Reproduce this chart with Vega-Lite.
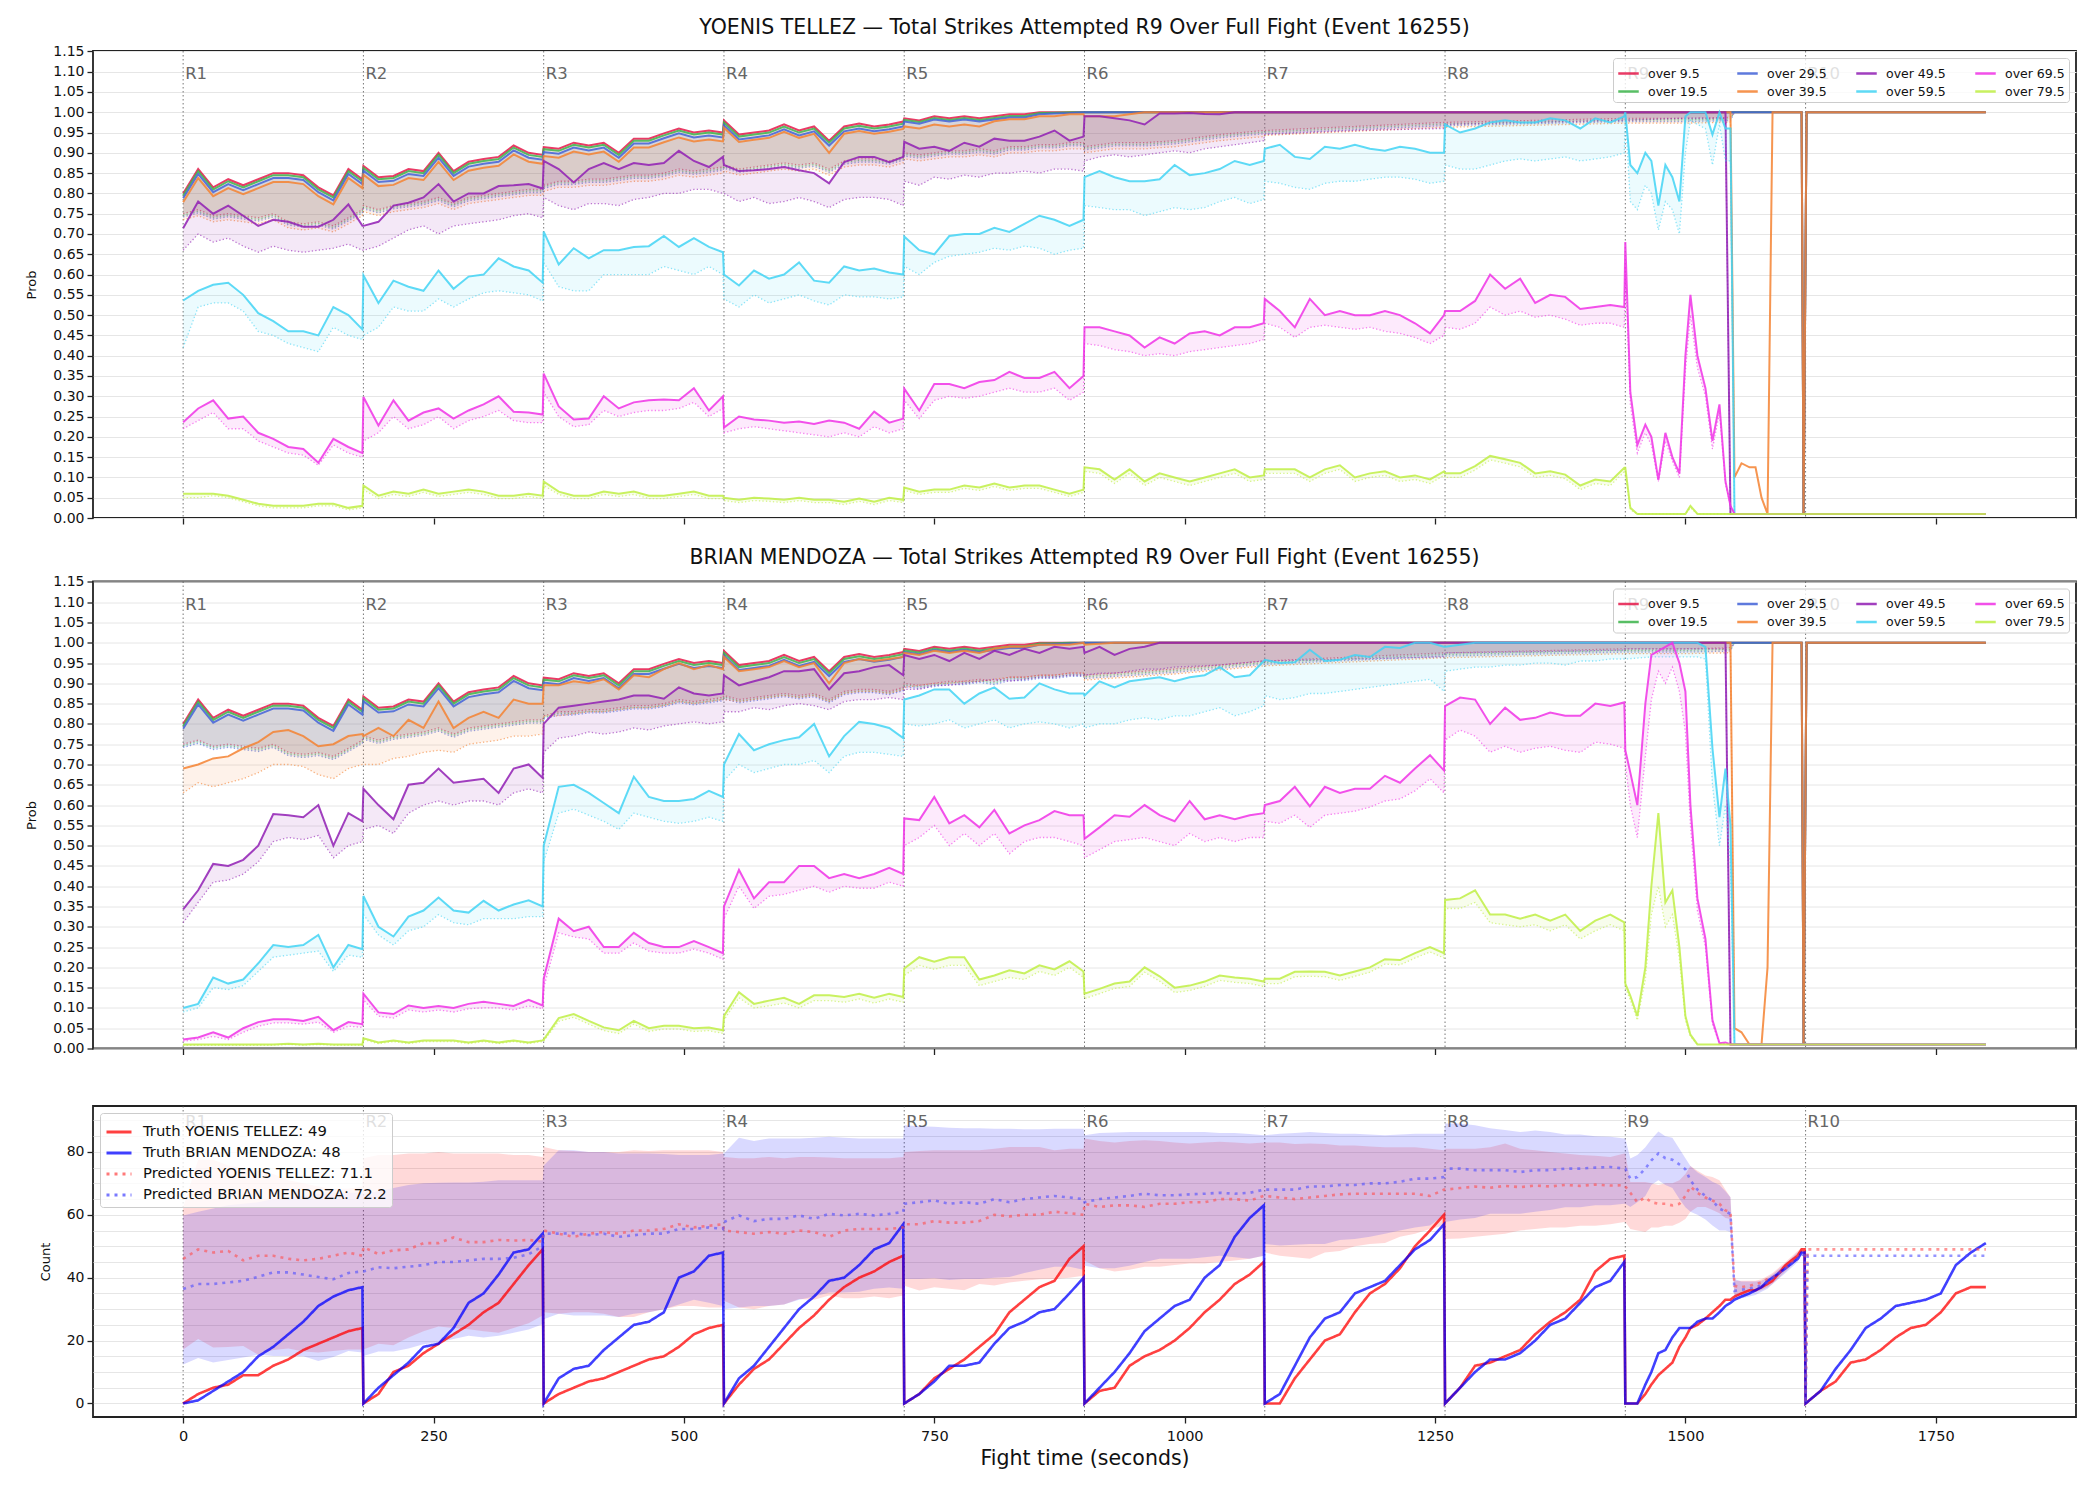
{
"$schema":"https://vega.github.io/schema/vega-lite/v6.json",
"background":"white",
"padding":{"left":24,"top":17,"right":10,"bottom":10},
"spacing":21.5,
"resolve":{"scale":{"color":"independent","strokeDash":"independent"},"legend":{"color":"independent","strokeDash":"independent"}},
"config":{
"font":"DejaVu Sans",
"view":{"stroke":"#222","strokeWidth":1.8},
"mark":{"invalid":"filter"},
"axis":{"domain":false,"labelFontSize":14,"labelColor":"#111","tickColor":"#222","tickSize":6,"tickWidth":1.3,"titleFontWeight":"normal","titleFontSize":13,"titleColor":"#111","labelPadding":3,"gridColor":"#e6e6e6","gridWidth":1,"labelOverlap":false},
"axisY":{"grid":true,"titlePadding":14},
"axisX":{"grid":false},
"title":{"fontSize":20.5,"fontWeight":"normal","color":"#111","offset":6},
"legend":{"labelColor":"#111"}
},
"datasets":{
"rounds":[{"t":0,"r":"R1"},{"t":180,"r":"R2"},{"t":360,"r":"R3"},{"t":540,"r":"R4"},{"t":720,"r":"R5"},{"t":900,"r":"R6"},{"t":1080,"r":"R7"},{"t":1260,"r":"R8"},{"t":1440,"r":"R9"},{"t":1620,"r":"R10"}],
"p1":[
{"t":0,"a":0.8,"b":0.795,"c":0.788,"e":0.778,"f":0.714,"g":0.536,"h":0.236,"i":0.06,"A":0.75,"B":0.746,"C":0.742,"E":0.735,"F":0.66,"G":0.42,"H":0.22,"I":0.05},
{"t":15,"a":0.86,"b":0.855,"c":0.848,"e":0.838,"f":0.78,"g":0.56,"h":0.27,"i":0.06,"A":0.76,"B":0.756,"C":0.752,"E":0.745,"F":0.7,"G":0.52,"H":0.24,"I":0.05},
{"t":30,"a":0.815,"b":0.81,"c":0.803,"e":0.793,"f":0.75,"g":0.575,"h":0.29,"i":0.06,"A":0.745,"B":0.741,"C":0.737,"E":0.73,"F":0.68,"G":0.53,"H":0.26,"I":0.055},
{"t":45,"a":0.835,"b":0.83,"c":0.823,"e":0.813,"f":0.77,"g":0.58,"h":0.245,"i":0.055,"A":0.75,"B":0.746,"C":0.742,"E":0.735,"F":0.69,"G":0.53,"H":0.22,"I":0.05},
{"t":60,"a":0.82,"b":0.815,"c":0.808,"e":0.798,"f":0.745,"g":0.55,"h":0.25,"i":0.045,"A":0.745,"B":0.741,"C":0.737,"E":0.73,"F":0.67,"G":0.51,"H":0.22,"I":0.04},
{"t":75,"a":0.835,"b":0.83,"c":0.823,"e":0.813,"f":0.72,"g":0.505,"h":0.21,"i":0.035,"A":0.74,"B":0.736,"C":0.732,"E":0.725,"F":0.655,"G":0.46,"H":0.19,"I":0.03},
{"t":90,"a":0.85,"b":0.845,"c":0.838,"e":0.828,"f":0.735,"g":0.485,"h":0.195,"i":0.03,"A":0.75,"B":0.746,"C":0.742,"E":0.735,"F":0.67,"G":0.45,"H":0.175,"I":0.025},
{"t":105,"a":0.85,"b":0.845,"c":0.838,"e":0.828,"f":0.73,"g":0.46,"h":0.175,"i":0.03,"A":0.73,"B":0.726,"C":0.722,"E":0.715,"F":0.66,"G":0.43,"H":0.16,"I":0.025},
{"t":120,"a":0.845,"b":0.84,"c":0.833,"e":0.823,"f":0.718,"g":0.46,"h":0.17,"i":0.03,"A":0.725,"B":0.721,"C":0.717,"E":0.71,"F":0.655,"G":0.42,"H":0.155,"I":0.025},
{"t":135,"a":0.815,"b":0.81,"c":0.803,"e":0.793,"f":0.718,"g":0.45,"h":0.136,"i":0.035,"A":0.73,"B":0.726,"C":0.722,"E":0.715,"F":0.66,"G":0.41,"H":0.13,"I":0.03},
{"t":150,"a":0.795,"b":0.79,"c":0.783,"e":0.773,"f":0.735,"g":0.52,"h":0.195,"i":0.035,"A":0.72,"B":0.716,"C":0.712,"E":0.705,"F":0.665,"G":0.47,"H":0.18,"I":0.03},
{"t":165,"a":0.86,"b":0.855,"c":0.848,"e":0.838,"f":0.773,"g":0.5,"h":0.175,"i":0.025,"A":0.74,"B":0.736,"C":0.732,"E":0.725,"F":0.675,"G":0.45,"H":0.16,"I":0.02},
{"t":179,"a":0.835,"b":0.83,"c":0.823,"e":0.813,"f":0.72,"g":0.465,"h":0.16,"i":0.03,"A":0.76,"B":0.756,"C":0.752,"E":0.745,"F":0.66,"G":0.44,"H":0.15,"I":0.025},
{"t":180,"a":0.868,"b":0.863,"c":0.856,"e":0.846,"f":0.72,"g":0.598,"h":0.298,"i":0.08,"A":0.77,"B":0.766,"C":0.762,"E":0.755,"F":0.66,"G":0.45,"H":0.19,"I":0.07},
{"t":195,"a":0.84,"b":0.835,"c":0.828,"e":0.818,"f":0.73,"g":0.53,"h":0.228,"i":0.055,"A":0.76,"B":0.756,"C":0.752,"E":0.745,"F":0.67,"G":0.47,"H":0.21,"I":0.048},
{"t":210,"a":0.843,"b":0.838,"c":0.831,"e":0.821,"f":0.77,"g":0.585,"h":0.29,"i":0.065,"A":0.77,"B":0.766,"C":0.762,"E":0.755,"F":0.69,"G":0.52,"H":0.25,"I":0.058},
{"t":225,"a":0.86,"b":0.855,"c":0.848,"e":0.838,"f":0.777,"g":0.57,"h":0.24,"i":0.06,"A":0.775,"B":0.771,"C":0.767,"E":0.76,"F":0.71,"G":0.51,"H":0.22,"I":0.053},
{"t":240,"a":0.855,"b":0.85,"c":0.843,"e":0.833,"f":0.79,"g":0.56,"h":0.26,"i":0.07,"A":0.78,"B":0.776,"C":0.772,"E":0.765,"F":0.72,"G":0.51,"H":0.23,"I":0.063},
{"t":255,"a":0.9,"b":0.895,"c":0.888,"e":0.878,"f":0.823,"g":0.61,"h":0.27,"i":0.06,"A":0.79,"B":0.786,"C":0.782,"E":0.775,"F":0.7,"G":0.54,"H":0.25,"I":0.053},
{"t":270,"a":0.855,"b":0.85,"c":0.843,"e":0.833,"f":0.78,"g":0.565,"h":0.245,"i":0.065,"A":0.775,"B":0.771,"C":0.767,"E":0.76,"F":0.72,"G":0.52,"H":0.22,"I":0.058},
{"t":285,"a":0.878,"b":0.873,"c":0.866,"e":0.856,"f":0.8,"g":0.595,"h":0.265,"i":0.07,"A":0.79,"B":0.786,"C":0.782,"E":0.775,"F":0.725,"G":0.54,"H":0.24,"I":0.063},
{"t":300,"a":0.885,"b":0.88,"c":0.873,"e":0.863,"f":0.8,"g":0.6,"h":0.28,"i":0.065,"A":0.795,"B":0.791,"C":0.787,"E":0.78,"F":0.73,"G":0.555,"H":0.25,"I":0.058},
{"t":315,"a":0.89,"b":0.885,"c":0.878,"e":0.868,"f":0.818,"g":0.64,"h":0.3,"i":0.055,"A":0.8,"B":0.796,"C":0.792,"E":0.785,"F":0.735,"G":0.56,"H":0.265,"I":0.048},
{"t":330,"a":0.918,"b":0.913,"c":0.906,"e":0.896,"f":0.82,"g":0.62,"h":0.262,"i":0.055,"A":0.805,"B":0.801,"C":0.797,"E":0.79,"F":0.745,"G":0.555,"H":0.24,"I":0.048},
{"t":345,"a":0.9,"b":0.895,"c":0.888,"e":0.878,"f":0.823,"g":0.61,"h":0.26,"i":0.06,"A":0.81,"B":0.806,"C":0.802,"E":0.795,"F":0.75,"G":0.55,"H":0.235,"I":0.053},
{"t":359,"a":0.895,"b":0.89,"c":0.883,"e":0.873,"f":0.812,"g":0.58,"h":0.255,"i":0.055,"A":0.81,"B":0.806,"C":0.802,"E":0.795,"F":0.74,"G":0.535,"H":0.235,"I":0.048},
{"t":360,"a":0.914,"b":0.909,"c":0.902,"e":0.892,"f":0.88,"g":0.706,"h":0.356,"i":0.09,"A":0.82,"B":0.816,"C":0.812,"E":0.805,"F":0.79,"G":0.63,"H":0.31,"I":0.08},
{"t":375,"a":0.91,"b":0.905,"c":0.898,"e":0.888,"f":0.86,"g":0.625,"h":0.275,"i":0.065,"A":0.83,"B":0.826,"C":0.822,"E":0.815,"F":0.77,"G":0.57,"H":0.25,"I":0.058},
{"t":390,"a":0.925,"b":0.92,"c":0.913,"e":0.903,"f":0.827,"g":0.665,"h":0.243,"i":0.055,"A":0.83,"B":0.826,"C":0.822,"E":0.815,"F":0.76,"G":0.56,"H":0.225,"I":0.048},
{"t":405,"a":0.918,"b":0.913,"c":0.906,"e":0.896,"f":0.86,"g":0.64,"h":0.245,"i":0.055,"A":0.835,"B":0.831,"C":0.827,"E":0.82,"F":0.775,"G":0.56,"H":0.23,"I":0.048},
{"t":420,"a":0.925,"b":0.92,"c":0.913,"e":0.903,"f":0.875,"g":0.66,"h":0.3,"i":0.065,"A":0.835,"B":0.831,"C":0.827,"E":0.82,"F":0.775,"G":0.6,"H":0.265,"I":0.058},
{"t":435,"a":0.9,"b":0.895,"c":0.888,"e":0.878,"f":0.86,"g":0.66,"h":0.27,"i":0.06,"A":0.84,"B":0.836,"C":0.832,"E":0.825,"F":0.77,"G":0.6,"H":0.25,"I":0.053},
{"t":450,"a":0.935,"b":0.93,"c":0.923,"e":0.913,"f":0.875,"g":0.668,"h":0.285,"i":0.065,"A":0.845,"B":0.841,"C":0.837,"E":0.83,"F":0.785,"G":0.6,"H":0.26,"I":0.058},
{"t":465,"a":0.935,"b":0.93,"c":0.923,"e":0.913,"f":0.87,"g":0.67,"h":0.29,"i":0.055,"A":0.845,"B":0.841,"C":0.837,"E":0.83,"F":0.79,"G":0.6,"H":0.265,"I":0.048},
{"t":480,"a":0.948,"b":0.943,"c":0.936,"e":0.926,"f":0.875,"g":0.695,"h":0.292,"i":0.055,"A":0.85,"B":0.846,"C":0.842,"E":0.835,"F":0.8,"G":0.62,"H":0.265,"I":0.048},
{"t":495,"a":0.96,"b":0.955,"c":0.948,"e":0.938,"f":0.905,"g":0.668,"h":0.29,"i":0.06,"A":0.86,"B":0.856,"C":0.852,"E":0.845,"F":0.8,"G":0.61,"H":0.27,"I":0.053},
{"t":510,"a":0.95,"b":0.945,"c":0.938,"e":0.928,"f":0.88,"g":0.69,"h":0.32,"i":0.065,"A":0.855,"B":0.851,"C":0.847,"E":0.84,"F":0.81,"G":0.6,"H":0.285,"I":0.058},
{"t":525,"a":0.955,"b":0.95,"c":0.943,"e":0.933,"f":0.865,"g":0.668,"h":0.265,"i":0.055,"A":0.86,"B":0.856,"C":0.852,"E":0.845,"F":0.81,"G":0.62,"H":0.25,"I":0.048},
{"t":539,"a":0.95,"b":0.945,"c":0.938,"e":0.928,"f":0.89,"g":0.655,"h":0.3,"i":0.055,"A":0.865,"B":0.861,"C":0.857,"E":0.85,"F":0.8,"G":0.6,"H":0.27,"I":0.048},
{"t":540,"a":0.98,"b":0.975,"c":0.968,"e":0.962,"f":0.87,"g":0.6,"h":0.223,"i":0.05,"A":0.87,"B":0.866,"C":0.862,"E":0.855,"F":0.8,"G":0.54,"H":0.21,"I":0.043},
{"t":555,"a":0.945,"b":0.94,"c":0.933,"e":0.927,"f":0.855,"g":0.573,"h":0.25,"i":0.045,"A":0.86,"B":0.856,"C":0.852,"E":0.845,"F":0.78,"G":0.52,"H":0.22,"I":0.038},
{"t":570,"a":0.95,"b":0.945,"c":0.938,"e":0.932,"f":0.857,"g":0.61,"h":0.243,"i":0.05,"A":0.865,"B":0.861,"C":0.857,"E":0.85,"F":0.79,"G":0.55,"H":0.225,"I":0.043},
{"t":585,"a":0.955,"b":0.95,"c":0.943,"e":0.937,"f":0.86,"g":0.59,"h":0.24,"i":0.048,"A":0.87,"B":0.866,"C":0.862,"E":0.855,"F":0.775,"G":0.53,"H":0.22,"I":0.041},
{"t":600,"a":0.97,"b":0.965,"c":0.958,"e":0.952,"f":0.865,"g":0.6,"h":0.235,"i":0.045,"A":0.875,"B":0.871,"C":0.867,"E":0.86,"F":0.78,"G":0.54,"H":0.215,"I":0.038},
{"t":615,"a":0.955,"b":0.95,"c":0.943,"e":0.937,"f":0.857,"g":0.63,"h":0.238,"i":0.05,"A":0.87,"B":0.866,"C":0.862,"E":0.855,"F":0.79,"G":0.55,"H":0.21,"I":0.043},
{"t":630,"a":0.965,"b":0.96,"c":0.953,"e":0.947,"f":0.85,"g":0.585,"h":0.232,"i":0.045,"A":0.875,"B":0.871,"C":0.867,"E":0.86,"F":0.78,"G":0.535,"H":0.205,"I":0.038},
{"t":645,"a":0.93,"b":0.925,"c":0.918,"e":0.9,"f":0.825,"g":0.58,"h":0.24,"i":0.045,"A":0.86,"B":0.856,"C":0.852,"E":0.845,"F":0.765,"G":0.525,"H":0.2,"I":0.038},
{"t":660,"a":0.965,"b":0.96,"c":0.953,"e":0.947,"f":0.877,"g":0.62,"h":0.235,"i":0.04,"A":0.88,"B":0.876,"C":0.872,"E":0.865,"F":0.785,"G":0.55,"H":0.21,"I":0.033},
{"t":675,"a":0.972,"b":0.967,"c":0.96,"e":0.954,"f":0.89,"g":0.61,"h":0.22,"i":0.048,"A":0.885,"B":0.881,"C":0.877,"E":0.87,"F":0.79,"G":0.545,"H":0.2,"I":0.041},
{"t":690,"a":0.965,"b":0.96,"c":0.953,"e":0.947,"f":0.89,"g":0.615,"h":0.262,"i":0.04,"A":0.885,"B":0.881,"C":0.877,"E":0.87,"F":0.79,"G":0.545,"H":0.225,"I":0.033},
{"t":705,"a":0.97,"b":0.965,"c":0.958,"e":0.952,"f":0.877,"g":0.605,"h":0.235,"i":0.05,"A":0.88,"B":0.876,"C":0.872,"E":0.865,"F":0.785,"G":0.54,"H":0.21,"I":0.043},
{"t":719,"a":0.977,"b":0.972,"c":0.965,"e":0.959,"f":0.89,"g":0.6,"h":0.245,"i":0.045,"A":0.89,"B":0.886,"C":0.882,"E":0.875,"F":0.77,"G":0.545,"H":0.22,"I":0.038},
{"t":720,"a":0.985,"b":0.981,"c":0.977,"e":0.965,"f":0.927,"g":0.694,"h":0.319,"i":0.075,"A":0.9,"B":0.896,"C":0.892,"E":0.885,"F":0.83,"G":0.62,"H":0.29,"I":0.068},
{"t":735,"a":0.98,"b":0.976,"c":0.972,"e":0.96,"f":0.91,"g":0.66,"h":0.265,"i":0.065,"A":0.895,"B":0.891,"C":0.887,"E":0.88,"F":0.82,"G":0.6,"H":0.245,"I":0.058},
{"t":750,"a":0.99,"b":0.986,"c":0.982,"e":0.97,"f":0.915,"g":0.65,"h":0.33,"i":0.07,"A":0.9,"B":0.896,"C":0.892,"E":0.885,"F":0.84,"G":0.63,"H":0.29,"I":0.063},
{"t":765,"a":0.985,"b":0.981,"c":0.977,"e":0.965,"f":0.905,"g":0.695,"h":0.33,"i":0.07,"A":0.905,"B":0.901,"C":0.897,"E":0.89,"F":0.835,"G":0.645,"H":0.3,"I":0.063},
{"t":780,"a":0.99,"b":0.986,"c":0.982,"e":0.97,"f":0.925,"g":0.7,"h":0.32,"i":0.08,"A":0.905,"B":0.901,"C":0.897,"E":0.89,"F":0.845,"G":0.65,"H":0.295,"I":0.073},
{"t":795,"a":0.985,"b":0.981,"c":0.977,"e":0.965,"f":0.915,"g":0.7,"h":0.335,"i":0.075,"A":0.91,"B":0.906,"C":0.902,"E":0.895,"F":0.84,"G":0.655,"H":0.3,"I":0.068},
{"t":810,"a":0.99,"b":0.986,"c":0.982,"e":0.978,"f":0.935,"g":0.715,"h":0.34,"i":0.085,"A":0.905,"B":0.901,"C":0.897,"E":0.89,"F":0.85,"G":0.665,"H":0.31,"I":0.078},
{"t":825,"a":0.995,"b":0.991,"c":0.987,"e":0.983,"f":0.93,"g":0.705,"h":0.36,"i":0.075,"A":0.915,"B":0.911,"C":0.907,"E":0.9,"F":0.85,"G":0.66,"H":0.32,"I":0.068},
{"t":840,"a":0.995,"b":0.991,"c":0.987,"e":0.983,"f":0.93,"g":0.725,"h":0.345,"i":0.08,"A":0.915,"B":0.911,"C":0.907,"E":0.9,"F":0.855,"G":0.67,"H":0.31,"I":0.073},
{"t":855,"a":1,"b":0.998,"c":0.995,"e":0.99,"f":0.94,"g":0.745,"h":0.345,"i":0.08,"A":0.92,"B":0.916,"C":0.912,"E":0.905,"F":0.85,"G":0.665,"H":0.31,"I":0.073},
{"t":870,"a":1,"b":0.999,"c":0.997,"e":0.99,"f":0.955,"g":0.735,"h":0.36,"i":0.07,"A":0.92,"B":0.916,"C":0.912,"E":0.905,"F":0.86,"G":0.65,"H":0.32,"I":0.063},
{"t":885,"a":1,"b":1,"c":0.998,"e":0.995,"f":0.93,"g":0.72,"h":0.32,"i":0.06,"A":0.925,"B":0.921,"C":0.917,"E":0.91,"F":0.86,"G":0.66,"H":0.29,"I":0.053},
{"t":899,"a":1,"b":1,"c":1,"e":0.995,"f":0.94,"g":0.735,"h":0.35,"i":0.07,"A":0.925,"B":0.921,"C":0.917,"E":0.91,"F":0.855,"G":0.665,"H":0.31,"I":0.063},
{"t":900,"a":1,"b":1,"c":1,"e":0.99,"A":0.915,"B":0.911,"C":0.907,"E":0.9,"f":0.99,"g":0.84,"h":0.47,"i":0.125,"F":0.88,"G":0.77,"H":0.43,"I":0.115},
{"t":915,"f":0.99,"g":0.855,"h":0.47,"i":0.12,"F":0.89,"G":0.765,"H":0.425,"I":0.11},
{"t":930,"a":1,"b":1,"c":1,"e":0.99,"A":0.925,"B":0.921,"C":0.917,"E":0.91,"f":0.985,"g":0.84,"h":0.46,"i":0.095,"F":0.895,"G":0.76,"H":0.415,"I":0.085},
{"t":945,"f":0.98,"g":0.83,"h":0.45,"i":0.12,"F":0.89,"G":0.76,"H":0.41,"I":0.11},
{"t":960,"a":1,"b":1,"c":1,"e":1,"A":0.925,"B":0.921,"C":0.917,"E":0.91,"f":0.97,"g":0.83,"h":0.42,"i":0.09,"F":0.895,"G":0.745,"H":0.4,"I":0.08},
{"t":975,"f":0.997,"g":0.835,"h":0.445,"i":0.11,"F":0.9,"G":0.755,"H":0.405,"I":0.1},
{"t":990,"a":1,"b":1,"c":1,"e":1,"A":0.93,"B":0.926,"C":0.922,"E":0.915,"f":0.997,"g":0.87,"h":0.43,"i":0.1,"F":0.905,"G":0.765,"H":0.4,"I":0.09},
{"t":1005,"f":0.998,"g":0.845,"h":0.455,"i":0.09,"F":0.9,"G":0.76,"H":0.41,"I":0.08},
{"t":1020,"f":0.996,"g":0.85,"h":0.46,"i":0.1,"F":0.91,"G":0.765,"H":0.415,"I":0.09},
{"t":1035,"a":1,"b":1,"c":1,"e":1,"A":0.945,"B":0.941,"C":0.937,"E":0.93,"f":0.995,"g":0.86,"h":0.45,"i":0.11,"F":0.915,"G":0.78,"H":0.42,"I":0.1},
{"t":1050,"f":1,"g":0.88,"h":0.47,"i":0.12,"F":0.92,"G":0.79,"H":0.425,"I":0.11},
{"t":1065,"f":1,"g":0.87,"h":0.47,"i":0.1,"F":0.925,"G":0.775,"H":0.43,"I":0.09},
{"t":1079,"a":1,"b":1,"c":1,"e":1,"A":0.955,"B":0.951,"C":0.947,"E":0.94,"f":1,"g":0.88,"h":0.48,"i":0.105,"F":0.93,"G":0.785,"H":0.44,"I":0.095},
{"t":1080,"a":1,"b":1,"c":1,"e":1,"A":0.955,"B":0.951,"C":0.947,"E":0.943,"f":1,"F":0.945,"g":0.91,"h":0.54,"i":0.12,"G":0.83,"H":0.48,"I":0.11},
{"t":1095,"g":0.92,"h":0.51,"i":0.12,"G":0.825,"H":0.47,"I":0.11},
{"t":1110,"g":0.89,"h":0.47,"i":0.12,"G":0.815,"H":0.445,"I":0.11},
{"t":1125,"g":0.885,"h":0.54,"i":0.1,"G":0.81,"H":0.47,"I":0.09},
{"t":1140,"g":0.915,"h":0.5,"i":0.12,"G":0.825,"H":0.475,"I":0.11},
{"t":1155,"g":0.91,"h":0.51,"i":0.13,"G":0.83,"H":0.47,"I":0.12},
{"t":1170,"a":1,"b":1,"c":1,"e":1,"A":0.965,"B":0.961,"C":0.957,"E":0.953,"f":1,"F":0.955,"g":0.92,"h":0.5,"i":0.1,"G":0.83,"H":0.465,"I":0.09},
{"t":1185,"g":0.91,"h":0.5,"i":0.11,"G":0.835,"H":0.47,"I":0.1},
{"t":1200,"g":0.905,"h":0.51,"i":0.115,"G":0.84,"H":0.46,"I":0.105},
{"t":1215,"g":0.915,"h":0.5,"i":0.1,"G":0.84,"H":0.455,"I":0.09},
{"t":1230,"g":0.91,"h":0.48,"i":0.105,"G":0.835,"H":0.445,"I":0.095},
{"t":1245,"g":0.9,"h":0.455,"i":0.095,"G":0.825,"H":0.43,"I":0.085},
{"t":1259,"a":1,"b":1,"c":1,"e":1,"A":0.975,"B":0.971,"C":0.967,"E":0.963,"f":1,"F":0.96,"g":0.9,"h":0.5,"i":0.115,"G":0.83,"H":0.45,"I":0.105},
{"t":1260,"a":1,"b":1,"c":1,"e":1,"A":0.975,"B":0.971,"C":0.967,"E":0.963,"f":1,"F":0.97,"g":0.97,"h":0.51,"i":0.11,"G":0.87,"H":0.47,"I":0.1},
{"t":1275,"g":0.95,"h":0.51,"i":0.11,"G":0.86,"H":0.465,"I":0.1},
{"t":1290,"g":0.96,"h":0.535,"i":0.128,"G":0.86,"H":0.48,"I":0.118},
{"t":1305,"g":0.975,"h":0.6,"i":0.153,"G":0.87,"H":0.52,"I":0.143},
{"t":1320,"g":0.98,"h":0.565,"i":0.145,"G":0.88,"H":0.5,"I":0.135},
{"t":1335,"g":0.975,"h":0.59,"i":0.136,"G":0.885,"H":0.51,"I":0.126},
{"t":1350,"a":1,"b":1,"c":1,"e":1,"A":0.98,"B":0.976,"C":0.972,"E":0.968,"f":1,"F":0.975,"g":0.975,"h":0.53,"i":0.11,"G":0.88,"H":0.495,"I":0.1},
{"t":1365,"g":0.985,"h":0.55,"i":0.115,"G":0.885,"H":0.5,"I":0.105},
{"t":1380,"g":0.98,"h":0.545,"i":0.107,"G":0.89,"H":0.49,"I":0.097},
{"t":1395,"g":0.96,"h":0.515,"i":0.08,"G":0.88,"H":0.475,"I":0.07},
{"t":1410,"g":0.985,"h":0.52,"i":0.095,"G":0.885,"H":0.48,"I":0.085},
{"t":1425,"g":0.975,"h":0.525,"i":0.09,"G":0.89,"H":0.48,"I":0.08},
{"t":1439,"a":1,"b":1,"c":1,"e":1,"A":0.985,"B":0.981,"C":0.977,"E":0.973,"f":1,"F":0.98,"g":0.99,"h":0.52,"i":0.124,"G":0.9,"H":0.47,"I":0.114},
{"t":1440,"a":1,"b":1,"c":1,"e":1,"A":0.985,"B":0.981,"C":0.977,"E":0.973,"f":1,"F":0.98,"g":1,"h":0.68,"i":0.124,"G":0.99,"H":0.62,"I":0.11},
{"t":1445,"g":0.87,"h":0.31,"i":0.025,"G":0.78,"H":0.28,"I":0.02},
{"t":1452,"g":0.85,"h":0.18,"i":0.01,"G":0.76,"H":0.16,"I":0.01},
{"t":1460,"g":0.9,"h":0.23,"G":0.82,"H":0.21},
{"t":1466,"g":0.88,"h":0.2,"G":0.8,"H":0.18},
{"t":1473,"g":0.77,"h":0.094,"G":0.71,"H":0.09},
{"t":1480,"g":0.87,"h":0.21,"G":0.78,"H":0.19},
{"t":1487,"g":0.84,"h":0.15,"G":0.76,"H":0.14},
{"t":1494,"a":1,"b":1,"c":1,"e":1,"A":0.985,"B":0.981,"C":0.977,"E":0.973,"f":1,"F":0.985,"g":0.78,"h":0.11,"i":0.01,"G":0.7,"H":0.1,"I":0.01},
{"t":1500,"g":0.99,"h":0.4,"i":0.01,"G":0.9,"H":0.36,"I":0.01},
{"t":1505,"g":1,"h":0.55,"i":0.03,"G":0.98,"H":0.5,"I":0.025},
{"t":1512,"g":1,"h":0.4,"i":0.01,"G":0.97,"H":0.37,"I":0.01},
{"t":1520,"g":1,"h":0.32,"G":0.96,"H":0.3},
{"t":1527,"g":0.945,"h":0.19,"G":0.87,"H":0.17},
{"t":1534,"g":1,"h":0.28,"G":0.97,"H":0.26},
{"t":1540,"a":1,"b":1,"c":1,"e":1,"A":0.987,"B":0.983,"C":0.979,"E":0.975,"f":1,"F":0.985,"g":0.96,"h":0.09,"G":0.88,"H":0.085},
{"t":1545,"a":1,"b":1,"c":1,"e":1,"A":0.988,"B":0.984,"C":0.98,"E":0.976,"f":0.01,"F":0.01,"g":0.96,"h":0.03,"G":0.88,"H":0.03},
{"t":1549,"a":1,"b":1,"c":1,"e":0.1,"A":1,"B":1,"C":1,"E":0.1,"g":0.01,"h":0.01,"i":0.01,"G":0.01,"H":0.01,"I":0.01},
{"t":1556,"e":0.135},
{"t":1564,"e":0.125},
{"t":1570,"e":0.125},
{"t":1576,"e":0.05},
{"t":1582,"e":0.01},
{"t":1587,"e":1},
{"t":1616,"a":1,"b":1,"c":1,"e":1},
{"t":1618,"a":0.01,"b":0.01,"c":0.01,"e":0.01},
{"t":1621,"a":1,"b":1,"c":1,"e":1},
{"t":1800,"a":1,"b":1,"c":1,"e":1,"f":0.01,"g":0.01,"h":0.01,"i":0.01}
],
"p2":[
{"t":0,"a":0.8,"b":0.795,"c":0.788,"A":0.75,"B":0.746,"C":0.742,"e":0.69,"f":0.343,"g":0.1,"h":0.022,"i":0.01,"E":0.63,"F":0.31,"G":0.09,"H":0.018,"I":0.008},
{"t":15,"a":0.86,"b":0.855,"c":0.848,"A":0.76,"B":0.756,"C":0.752,"e":0.7,"f":0.39,"g":0.11,"h":0.027,"i":0.01,"E":0.655,"F":0.36,"G":0.1,"H":0.022,"I":0.008},
{"t":30,"a":0.815,"b":0.81,"c":0.803,"A":0.745,"B":0.741,"C":0.737,"e":0.715,"f":0.455,"g":0.175,"h":0.04,"i":0.01,"E":0.645,"F":0.41,"G":0.15,"H":0.03,"I":0.008},
{"t":45,"a":0.835,"b":0.83,"c":0.823,"A":0.75,"B":0.746,"C":0.742,"e":0.72,"f":0.45,"g":0.16,"h":0.027,"i":0.01,"E":0.655,"F":0.415,"G":0.145,"H":0.022,"I":0.008},
{"t":60,"a":0.82,"b":0.815,"c":0.808,"A":0.745,"B":0.741,"C":0.737,"e":0.74,"f":0.465,"g":0.17,"h":0.05,"i":0.01,"E":0.665,"F":0.43,"G":0.155,"H":0.04,"I":0.008},
{"t":75,"a":0.835,"b":0.83,"c":0.823,"A":0.74,"B":0.736,"C":0.732,"e":0.755,"f":0.5,"g":0.21,"h":0.065,"i":0.01,"E":0.68,"F":0.46,"G":0.19,"H":0.055,"I":0.008},
{"t":90,"a":0.85,"b":0.845,"c":0.838,"A":0.75,"B":0.746,"C":0.742,"e":0.78,"f":0.578,"g":0.255,"h":0.072,"i":0.01,"E":0.7,"F":0.51,"G":0.225,"H":0.063,"I":0.008},
{"t":105,"a":0.85,"b":0.845,"c":0.838,"A":0.73,"B":0.726,"C":0.722,"e":0.785,"f":0.575,"g":0.25,"h":0.072,"i":0.012,"E":0.7,"F":0.52,"G":0.23,"H":0.063,"I":0.01},
{"t":120,"a":0.845,"b":0.84,"c":0.833,"A":0.725,"B":0.721,"C":0.717,"e":0.77,"f":0.57,"g":0.255,"h":0.068,"i":0.01,"E":0.695,"F":0.515,"G":0.235,"H":0.06,"I":0.008},
{"t":135,"a":0.815,"b":0.81,"c":0.803,"A":0.73,"B":0.726,"C":0.722,"e":0.745,"f":0.6,"g":0.28,"h":0.078,"i":0.012,"E":0.675,"F":0.525,"G":0.24,"H":0.065,"I":0.01},
{"t":150,"a":0.795,"b":0.79,"c":0.783,"A":0.72,"B":0.716,"C":0.712,"e":0.75,"f":0.5,"g":0.2,"h":0.045,"i":0.01,"E":0.665,"F":0.47,"G":0.19,"H":0.04,"I":0.008},
{"t":165,"a":0.86,"b":0.855,"c":0.848,"A":0.74,"B":0.736,"C":0.732,"e":0.77,"f":0.58,"g":0.255,"h":0.065,"i":0.01,"E":0.69,"F":0.5,"G":0.23,"H":0.055,"I":0.008},
{"t":179,"a":0.835,"b":0.83,"c":0.823,"A":0.76,"B":0.756,"C":0.752,"e":0.775,"f":0.56,"g":0.245,"h":0.06,"i":0.01,"E":0.7,"F":0.51,"G":0.225,"H":0.052,"I":0.008},
{"t":180,"a":0.868,"b":0.863,"c":0.856,"A":0.77,"B":0.766,"C":0.762,"e":0.77,"f":0.64,"g":0.376,"h":0.135,"i":0.025,"E":0.7,"F":0.54,"G":0.33,"H":0.12,"I":0.022},
{"t":195,"a":0.84,"b":0.835,"c":0.828,"A":0.76,"B":0.756,"C":0.752,"e":0.79,"f":0.6,"g":0.3,"h":0.089,"i":0.015,"E":0.7,"F":0.55,"G":0.28,"H":0.08,"I":0.012},
{"t":210,"a":0.843,"b":0.838,"c":0.831,"A":0.77,"B":0.766,"C":0.762,"e":0.77,"f":0.565,"g":0.276,"h":0.085,"i":0.02,"E":0.715,"F":0.53,"G":0.255,"H":0.075,"I":0.017},
{"t":225,"a":0.86,"b":0.855,"c":0.848,"A":0.775,"B":0.771,"C":0.767,"e":0.81,"f":0.65,"g":0.325,"h":0.106,"i":0.015,"E":0.72,"F":0.58,"G":0.29,"H":0.095,"I":0.012},
{"t":240,"a":0.855,"b":0.85,"c":0.843,"A":0.78,"B":0.776,"C":0.772,"e":0.79,"f":0.655,"g":0.34,"h":0.1,"i":0.02,"E":0.73,"F":0.6,"G":0.3,"H":0.09,"I":0.017},
{"t":255,"a":0.9,"b":0.895,"c":0.888,"A":0.79,"B":0.786,"C":0.782,"e":0.855,"f":0.69,"g":0.372,"h":0.105,"i":0.02,"E":0.735,"F":0.61,"G":0.33,"H":0.095,"I":0.017},
{"t":270,"a":0.855,"b":0.85,"c":0.843,"A":0.775,"B":0.771,"C":0.767,"e":0.79,"f":0.655,"g":0.34,"h":0.1,"i":0.02,"E":0.73,"F":0.6,"G":0.31,"H":0.09,"I":0.017},
{"t":285,"a":0.878,"b":0.873,"c":0.866,"A":0.79,"B":0.786,"C":0.782,"e":0.815,"f":0.66,"g":0.335,"h":0.11,"i":0.015,"E":0.75,"F":0.61,"G":0.305,"H":0.098,"I":0.012},
{"t":300,"a":0.885,"b":0.88,"c":0.873,"A":0.795,"B":0.791,"C":0.787,"e":0.83,"f":0.665,"g":0.364,"h":0.115,"i":0.02,"E":0.755,"F":0.61,"G":0.32,"H":0.1,"I":0.017},
{"t":315,"a":0.89,"b":0.885,"c":0.878,"A":0.8,"B":0.796,"C":0.792,"e":0.815,"f":0.63,"g":0.34,"h":0.11,"i":0.015,"E":0.76,"F":0.6,"G":0.32,"H":0.1,"I":0.012},
{"t":330,"a":0.918,"b":0.913,"c":0.906,"A":0.805,"B":0.801,"C":0.797,"e":0.86,"f":0.69,"g":0.355,"h":0.105,"i":0.02,"E":0.77,"F":0.63,"G":0.32,"H":0.095,"I":0.017},
{"t":345,"a":0.9,"b":0.895,"c":0.888,"A":0.81,"B":0.806,"C":0.802,"e":0.85,"f":0.7,"g":0.365,"h":0.12,"i":0.015,"E":0.77,"F":0.64,"G":0.325,"H":0.105,"I":0.012},
{"t":359,"a":0.895,"b":0.89,"c":0.883,"A":0.81,"B":0.806,"C":0.802,"e":0.85,"f":0.667,"g":0.35,"h":0.106,"i":0.02,"E":0.775,"F":0.63,"G":0.325,"H":0.098,"I":0.017},
{"t":360,"a":0.914,"b":0.909,"c":0.902,"A":0.82,"B":0.816,"C":0.812,"e":0.895,"f":0.8,"g":0.5,"h":0.172,"i":0.022,"E":0.82,"F":0.73,"G":0.46,"H":0.15,"I":0.018},
{"t":375,"a":0.91,"b":0.905,"c":0.898,"A":0.83,"B":0.826,"C":0.822,"e":0.895,"f":0.84,"g":0.645,"h":0.32,"i":0.075,"E":0.82,"F":0.765,"G":0.58,"H":0.285,"I":0.067},
{"t":390,"a":0.925,"b":0.92,"c":0.913,"A":0.83,"B":0.826,"C":0.822,"e":0.905,"f":0.845,"g":0.65,"h":0.289,"i":0.085,"E":0.825,"F":0.77,"G":0.59,"H":0.275,"I":0.077},
{"t":405,"a":0.918,"b":0.913,"c":0.906,"A":0.835,"B":0.831,"C":0.827,"e":0.9,"f":0.85,"g":0.63,"h":0.3,"i":0.068,"E":0.83,"F":0.78,"G":0.575,"H":0.27,"I":0.06},
{"t":420,"a":0.925,"b":0.92,"c":0.913,"A":0.835,"B":0.831,"C":0.827,"e":0.91,"f":0.855,"g":0.605,"h":0.25,"i":0.052,"E":0.83,"F":0.775,"G":0.56,"H":0.235,"I":0.044},
{"t":435,"a":0.9,"b":0.895,"c":0.888,"A":0.84,"B":0.836,"C":0.832,"e":0.885,"f":0.86,"g":0.58,"h":0.25,"i":0.045,"E":0.835,"F":0.78,"G":0.54,"H":0.235,"I":0.037},
{"t":450,"a":0.935,"b":0.93,"c":0.923,"A":0.845,"B":0.841,"C":0.837,"e":0.92,"f":0.87,"g":0.67,"h":0.285,"i":0.068,"E":0.84,"F":0.79,"G":0.58,"H":0.26,"I":0.06},
{"t":465,"a":0.935,"b":0.93,"c":0.923,"A":0.845,"B":0.841,"C":0.837,"e":0.915,"f":0.87,"g":0.62,"h":0.26,"i":0.05,"E":0.84,"F":0.785,"G":0.57,"H":0.24,"I":0.042},
{"t":480,"a":0.948,"b":0.943,"c":0.936,"A":0.85,"B":0.846,"C":0.842,"e":0.935,"f":0.862,"g":0.61,"h":0.25,"i":0.056,"E":0.845,"F":0.795,"G":0.56,"H":0.235,"I":0.048},
{"t":495,"a":0.96,"b":0.955,"c":0.948,"A":0.86,"B":0.856,"C":0.852,"e":0.95,"f":0.89,"g":0.61,"h":0.25,"i":0.056,"E":0.855,"F":0.8,"G":0.555,"H":0.235,"I":0.048},
{"t":510,"a":0.95,"b":0.945,"c":0.938,"A":0.855,"B":0.851,"C":0.847,"e":0.935,"f":0.875,"g":0.615,"h":0.265,"i":0.05,"E":0.85,"F":0.805,"G":0.56,"H":0.245,"I":0.042},
{"t":525,"a":0.955,"b":0.95,"c":0.943,"A":0.86,"B":0.856,"C":0.852,"e":0.945,"f":0.87,"g":0.635,"h":0.25,"i":0.052,"E":0.855,"F":0.8,"G":0.57,"H":0.235,"I":0.044},
{"t":539,"a":0.95,"b":0.945,"c":0.938,"A":0.865,"B":0.861,"C":0.857,"e":0.935,"f":0.875,"g":0.62,"h":0.235,"i":0.045,"E":0.86,"F":0.805,"G":0.56,"H":0.22,"I":0.037},
{"t":540,"a":0.98,"b":0.975,"c":0.968,"A":0.87,"B":0.866,"C":0.862,"e":0.965,"f":0.92,"g":0.7,"h":0.35,"i":0.08,"E":0.86,"F":0.83,"G":0.66,"H":0.32,"I":0.07},
{"t":555,"a":0.945,"b":0.94,"c":0.933,"A":0.86,"B":0.856,"C":0.852,"e":0.93,"f":0.895,"g":0.775,"h":0.44,"i":0.139,"E":0.855,"F":0.83,"G":0.7,"H":0.4,"I":0.125},
{"t":570,"a":0.95,"b":0.945,"c":0.938,"A":0.865,"B":0.861,"C":0.857,"e":0.935,"f":0.905,"g":0.735,"h":0.37,"i":0.11,"E":0.86,"F":0.84,"G":0.68,"H":0.345,"I":0.1},
{"t":585,"a":0.955,"b":0.95,"c":0.943,"A":0.87,"B":0.866,"C":0.862,"e":0.94,"f":0.915,"g":0.75,"h":0.41,"i":0.118,"E":0.865,"F":0.835,"G":0.69,"H":0.375,"I":0.105},
{"t":600,"a":0.97,"b":0.965,"c":0.958,"A":0.875,"B":0.871,"C":0.867,"e":0.955,"f":0.93,"g":0.76,"h":0.41,"i":0.125,"E":0.87,"F":0.845,"G":0.7,"H":0.38,"I":0.112},
{"t":615,"a":0.955,"b":0.95,"c":0.943,"A":0.87,"B":0.866,"C":0.862,"e":0.94,"f":0.93,"g":0.767,"h":0.45,"i":0.11,"E":0.865,"F":0.85,"G":0.7,"H":0.39,"I":0.1},
{"t":630,"a":0.965,"b":0.96,"c":0.953,"A":0.875,"B":0.871,"C":0.867,"e":0.95,"f":0.935,"g":0.8,"h":0.45,"i":0.131,"E":0.87,"F":0.845,"G":0.71,"H":0.4,"I":0.118},
{"t":645,"a":0.93,"b":0.925,"c":0.918,"A":0.86,"B":0.856,"C":0.852,"e":0.9,"f":0.885,"g":0.72,"h":0.42,"i":0.131,"E":0.855,"F":0.835,"G":0.68,"H":0.385,"I":0.118},
{"t":660,"a":0.965,"b":0.96,"c":0.953,"A":0.88,"B":0.876,"C":0.872,"e":0.95,"f":0.925,"g":0.77,"h":0.43,"i":0.127,"E":0.875,"F":0.855,"G":0.72,"H":0.4,"I":0.114},
{"t":675,"a":0.972,"b":0.967,"c":0.96,"A":0.885,"B":0.881,"C":0.877,"e":0.96,"f":0.93,"g":0.805,"h":0.42,"i":0.135,"E":0.88,"F":0.86,"G":0.73,"H":0.395,"I":0.122},
{"t":690,"a":0.965,"b":0.96,"c":0.953,"A":0.885,"B":0.881,"C":0.877,"e":0.955,"f":0.94,"g":0.8,"h":0.43,"i":0.125,"E":0.88,"F":0.86,"G":0.73,"H":0.395,"I":0.112},
{"t":705,"a":0.97,"b":0.965,"c":0.958,"A":0.88,"B":0.876,"C":0.872,"e":0.96,"f":0.945,"g":0.79,"h":0.445,"i":0.135,"E":0.875,"F":0.865,"G":0.725,"H":0.41,"I":0.122},
{"t":719,"a":0.977,"b":0.972,"c":0.965,"A":0.89,"B":0.886,"C":0.882,"e":0.965,"f":0.92,"g":0.765,"h":0.43,"i":0.127,"E":0.885,"F":0.86,"G":0.72,"H":0.4,"I":0.114},
{"t":720,"a":0.985,"b":0.981,"c":0.977,"A":0.9,"B":0.896,"C":0.892,"e":0.975,"f":0.97,"g":0.86,"h":0.567,"i":0.197,"E":0.89,"F":0.885,"G":0.8,"H":0.5,"I":0.18},
{"t":735,"a":0.98,"b":0.976,"c":0.972,"A":0.895,"B":0.891,"C":0.887,"e":0.97,"f":0.96,"g":0.87,"h":0.563,"i":0.225,"E":0.895,"F":0.885,"G":0.795,"H":0.52,"I":0.205},
{"t":750,"a":0.99,"b":0.986,"c":0.982,"A":0.9,"B":0.896,"C":0.892,"e":0.98,"f":0.97,"g":0.885,"h":0.62,"i":0.214,"E":0.9,"F":0.895,"G":0.8,"H":0.55,"I":0.195},
{"t":765,"a":0.985,"b":0.981,"c":0.977,"A":0.905,"B":0.901,"C":0.897,"e":0.975,"f":0.955,"g":0.885,"h":0.555,"i":0.225,"E":0.9,"F":0.895,"G":0.81,"H":0.5,"I":0.205},
{"t":780,"a":0.99,"b":0.986,"c":0.982,"A":0.905,"B":0.901,"C":0.897,"e":0.98,"f":0.975,"g":0.85,"h":0.575,"i":0.225,"E":0.905,"F":0.9,"G":0.79,"H":0.53,"I":0.205},
{"t":795,"a":0.985,"b":0.981,"c":0.977,"A":0.91,"B":0.906,"C":0.902,"e":0.975,"f":0.96,"g":0.875,"h":0.545,"i":0.17,"E":0.905,"F":0.905,"G":0.8,"H":0.5,"I":0.155},
{"t":810,"a":0.99,"b":0.986,"c":0.982,"A":0.905,"B":0.901,"C":0.897,"e":0.985,"f":0.98,"g":0.89,"h":0.588,"i":0.18,"E":0.91,"F":0.91,"G":0.81,"H":0.53,"I":0.165},
{"t":825,"a":0.995,"b":0.991,"c":0.987,"A":0.915,"B":0.911,"C":0.907,"e":0.99,"f":0.97,"g":0.862,"h":0.53,"i":0.193,"E":0.915,"F":0.905,"G":0.79,"H":0.48,"I":0.175},
{"t":840,"a":0.995,"b":0.991,"c":0.987,"A":0.915,"B":0.911,"C":0.907,"e":0.99,"f":0.985,"g":0.865,"h":0.55,"i":0.185,"E":0.915,"F":0.91,"G":0.8,"H":0.51,"I":0.17},
{"t":855,"a":1,"b":0.998,"c":0.995,"A":0.92,"B":0.916,"C":0.912,"e":0.995,"f":0.975,"g":0.9,"h":0.563,"i":0.205,"E":0.92,"F":0.915,"G":0.805,"H":0.52,"I":0.19},
{"t":870,"a":1,"b":0.999,"c":0.997,"A":0.92,"B":0.916,"C":0.912,"e":0.995,"f":0.99,"g":0.885,"h":0.585,"i":0.195,"E":0.92,"F":0.915,"G":0.8,"H":0.52,"I":0.18},
{"t":885,"a":1,"b":1,"c":0.998,"A":0.925,"B":0.921,"C":0.917,"e":0.995,"f":0.985,"g":0.875,"h":0.575,"i":0.215,"E":0.925,"F":0.92,"G":0.79,"H":0.51,"I":0.2},
{"t":899,"a":1,"b":1,"c":1,"A":0.925,"B":0.921,"C":0.917,"e":1,"f":0.99,"g":0.875,"h":0.575,"i":0.19,"E":0.925,"F":0.92,"G":0.8,"H":0.5,"I":0.175},
{"t":900,"a":1,"b":1,"c":1,"e":0.995,"A":0.92,"B":0.916,"C":0.912,"E":0.908,"f":0.975,"F":0.92,"g":0.87,"h":0.517,"i":0.135,"G":0.79,"H":0.47,"I":0.123},
{"t":915,"f":0.99,"F":0.925,"g":0.905,"h":0.545,"i":0.147,"G":0.8,"H":0.49,"I":0.135},
{"t":930,"a":1,"b":1,"c":1,"e":1,"A":0.925,"B":0.921,"C":0.917,"E":0.913,"f":0.97,"F":0.925,"g":0.89,"h":0.575,"i":0.16,"G":0.8,"H":0.51,"I":0.148},
{"t":945,"f":0.985,"F":0.93,"g":0.905,"h":0.571,"i":0.165,"G":0.81,"H":0.515,"I":0.153},
{"t":960,"a":1,"b":1,"c":1,"e":1,"A":0.93,"B":0.926,"C":0.922,"E":0.918,"f":0.99,"F":0.935,"g":0.91,"h":0.6,"i":0.2,"G":0.815,"H":0.52,"I":0.188},
{"t":975,"f":1,"F":0.935,"g":0.915,"h":0.575,"i":0.178,"G":0.81,"H":0.51,"I":0.166},
{"t":990,"a":1,"b":1,"c":1,"e":1,"A":0.935,"B":0.931,"C":0.927,"E":0.923,"f":1,"F":0.94,"g":0.905,"h":0.56,"i":0.15,"G":0.82,"H":0.5,"I":0.138},
{"t":1005,"g":0.915,"h":0.61,"i":0.155,"G":0.82,"H":0.53,"I":0.143},
{"t":1020,"g":0.92,"h":0.565,"i":0.165,"G":0.83,"H":0.51,"I":0.153},
{"t":1035,"a":1,"b":1,"c":1,"e":1,"A":0.945,"B":0.941,"C":0.937,"E":0.933,"f":1,"F":0.945,"g":0.94,"h":0.575,"i":0.18,"G":0.84,"H":0.52,"I":0.168},
{"t":1050,"g":0.915,"h":0.565,"i":0.175,"G":0.82,"H":0.51,"I":0.163},
{"t":1065,"g":0.92,"h":0.575,"i":0.172,"G":0.83,"H":0.52,"I":0.16},
{"t":1079,"a":1,"b":1,"c":1,"e":1,"A":0.955,"B":0.951,"C":0.947,"E":0.943,"f":1,"F":0.955,"g":0.955,"h":0.58,"i":0.165,"G":0.845,"H":0.52,"I":0.153},
{"t":1080,"a":1,"b":1,"c":1,"e":1,"A":0.955,"B":0.951,"C":0.947,"E":0.943,"f":1,"F":0.955,"g":0.958,"h":0.6,"i":0.172,"G":0.87,"H":0.56,"I":0.16},
{"t":1095,"g":0.95,"h":0.61,"i":0.172,"G":0.86,"H":0.555,"I":0.16},
{"t":1110,"g":0.952,"h":0.645,"i":0.189,"G":0.865,"H":0.575,"I":0.177},
{"t":1125,"g":0.983,"h":0.597,"i":0.19,"G":0.875,"H":0.545,"I":0.178},
{"t":1140,"g":0.955,"h":0.645,"i":0.189,"G":0.875,"H":0.575,"I":0.177},
{"t":1155,"g":0.958,"h":0.63,"i":0.18,"G":0.88,"H":0.58,"I":0.168},
{"t":1170,"a":1,"b":1,"c":1,"e":1,"A":0.965,"B":0.961,"C":0.957,"E":0.953,"f":1,"F":0.96,"g":0.97,"h":0.64,"i":0.19,"G":0.885,"H":0.585,"I":0.178},
{"t":1185,"g":0.965,"h":0.64,"i":0.2,"G":0.89,"H":0.595,"I":0.188},
{"t":1200,"g":0.99,"h":0.672,"i":0.22,"G":0.895,"H":0.61,"I":0.208},
{"t":1215,"g":0.987,"h":0.655,"i":0.218,"G":0.9,"H":0.615,"I":0.206},
{"t":1230,"g":1,"h":0.69,"i":0.235,"G":0.905,"H":0.635,"I":0.223},
{"t":1245,"g":1,"h":0.723,"i":0.25,"G":0.91,"H":0.665,"I":0.238},
{"t":1259,"a":1,"b":1,"c":1,"e":1,"A":0.975,"B":0.971,"C":0.967,"E":0.963,"f":1,"F":0.965,"g":0.99,"h":0.685,"i":0.235,"G":0.88,"H":0.63,"I":0.223},
{"t":1260,"a":1,"b":1,"c":1,"e":1,"A":0.975,"B":0.971,"C":0.967,"E":0.963,"f":1,"F":0.975,"g":0.99,"h":0.844,"i":0.366,"G":0.93,"H":0.76,"I":0.345},
{"t":1275,"g":0.995,"h":0.865,"i":0.37,"G":0.935,"H":0.785,"I":0.345},
{"t":1290,"g":1,"h":0.86,"i":0.39,"G":0.94,"H":0.77,"I":0.36},
{"t":1305,"g":1,"h":0.8,"i":0.33,"G":0.94,"H":0.73,"I":0.31},
{"t":1320,"g":1,"h":0.84,"i":0.33,"G":0.945,"H":0.745,"I":0.305},
{"t":1335,"g":1,"h":0.81,"i":0.32,"G":0.945,"H":0.73,"I":0.3},
{"t":1350,"a":1,"b":1,"c":1,"e":1,"A":0.98,"B":0.976,"C":0.972,"E":0.968,"f":1,"F":0.978,"g":1,"h":0.815,"i":0.33,"G":0.95,"H":0.74,"I":0.305},
{"t":1365,"g":1,"h":0.828,"i":0.315,"G":0.95,"H":0.745,"I":0.29},
{"t":1380,"g":1,"h":0.82,"i":0.33,"G":0.945,"H":0.735,"I":0.305},
{"t":1395,"g":1,"h":0.82,"i":0.29,"G":0.955,"H":0.73,"I":0.27},
{"t":1410,"g":1,"h":0.85,"i":0.315,"G":0.955,"H":0.755,"I":0.29},
{"t":1425,"g":1,"h":0.844,"i":0.33,"G":0.96,"H":0.75,"I":0.305},
{"t":1439,"a":1,"b":1,"c":1,"e":1,"A":0.985,"B":0.981,"C":0.977,"E":0.973,"f":1,"F":0.982,"g":1,"h":0.853,"i":0.311,"G":0.96,"H":0.74,"I":0.29},
{"t":1440,"a":1,"b":1,"c":1,"e":1,"A":0.985,"B":0.981,"C":0.977,"E":0.973,"f":1,"F":0.985,"g":1,"G":0.96,"h":0.735,"H":0.7,"i":0.16,"I":0.15},
{"t":1445,"h":0.68,"H":0.6,"i":0.13,"I":0.12},
{"t":1452,"h":0.6,"H":0.52,"i":0.08,"I":0.07},
{"t":1460,"h":0.85,"H":0.72,"i":0.2,"I":0.17},
{"t":1466,"g":1,"G":0.965,"h":0.97,"H":0.86,"i":0.4,"I":0.33},
{"t":1473,"h":0.98,"H":0.93,"i":0.58,"I":0.4},
{"t":1480,"h":0.99,"H":0.9,"i":0.36,"I":0.3},
{"t":1487,"h":1,"H":0.94,"i":0.39,"I":0.33},
{"t":1494,"a":1,"b":1,"c":1,"e":1,"A":0.985,"B":0.981,"C":0.977,"E":0.973,"f":1,"F":0.985,"g":1,"G":0.965,"h":0.95,"H":0.88,"i":0.25,"I":0.22},
{"t":1500,"h":0.88,"H":0.78,"i":0.08,"I":0.07},
{"t":1505,"h":0.6,"H":0.55,"i":0.034,"I":0.03},
{"t":1512,"g":1,"G":0.965,"h":0.37,"H":0.34,"i":0.01,"I":0.01},
{"t":1520,"g":0.99,"G":0.96,"h":0.27,"H":0.25},
{"t":1527,"g":0.74,"G":0.65,"h":0.07,"H":0.06},
{"t":1534,"g":0.57,"G":0.5,"h":0.013,"H":0.012},
{"t":1540,"a":1,"b":1,"c":1,"e":1,"A":0.987,"B":0.983,"C":0.979,"E":0.975,"f":1,"F":0.985,"g":0.69,"G":0.6,"h":0.015,"H":0.012},
{"t":1545,"a":1,"b":1,"c":1,"e":1,"A":0.988,"B":0.984,"C":0.98,"E":0.976,"f":0.01,"F":0.01,"g":0.55,"G":0.45,"h":0.01,"H":0.01},
{"t":1549,"a":1,"b":1,"c":1,"A":1,"B":1,"C":1,"e":0.05,"E":0.05,"g":0.01,"G":0.01},
{"t":1556,"e":0.04},
{"t":1564,"e":0.01},
{"t":1576,"e":0.01},
{"t":1582,"e":0.2},
{"t":1587,"e":1},
{"t":1616,"a":1,"b":1,"c":1,"e":1},
{"t":1618,"a":0.01,"b":0.01,"c":0.01,"e":0.01},
{"t":1621,"a":1,"b":1,"c":1,"e":1},
{"t":1800,"a":1,"b":1,"c":1,"e":1,"f":0.01,"g":0.01,"h":0.01,"i":0.01}
],
"p3":[
{"t":0,"r":0,"m":0,"p":46,"q":36.4,"lr":17.2,"hr":62.4,"lm":12.4,"hm":59.8},
{"t":15,"r":3,"m":1,"p":49,"q":38,"lr":20.5,"hr":77.5,"lm":14.5,"hm":61},
{"t":30,"r":5,"m":4,"p":48,"q":38,"lr":17.8,"hr":77.5,"lm":13,"hm":62},
{"t":45,"r":6,"m":7,"p":48.5,"q":38.5,"lr":18,"hr":75.7,"lm":13.8,"hm":63},
{"t":60,"r":9,"m":10,"p":45.5,"q":39,"lr":18.3,"hr":74.7,"lm":14.6,"hm":63.5},
{"t":75,"r":9,"m":15,"p":47,"q":40.3,"lr":15.5,"hr":74,"lm":15.5,"hm":64},
{"t":90,"r":12,"m":18,"p":47,"q":41.7,"lr":17,"hr":73,"lm":15.1,"hm":65},
{"t":105,"r":14,"m":22,"p":46,"q":41.7,"lr":17.5,"hr":71,"lm":15.1,"hm":65.5},
{"t":120,"r":17,"m":26,"p":45.5,"q":41,"lr":16.5,"hr":70,"lm":15,"hm":66},
{"t":135,"r":19,"m":31,"p":46,"q":40.2,"lr":16.2,"hr":69,"lm":13.5,"hm":66.5},
{"t":150,"r":21,"m":34,"p":47,"q":39.5,"lr":16.7,"hr":68.3,"lm":14.8,"hm":67},
{"t":165,"r":23,"m":36,"p":48,"q":41.5,"lr":17.2,"hr":68.3,"lm":16.7,"hm":67},
{"t":179,"r":24,"m":37,"p":47,"q":42,"lr":17.2,"hr":69,"lm":16.2,"hm":67},
{"t":180,"r":0,"m":0,"p":49.7,"q":42,"lr":17.2,"hr":78,"lm":15.1,"hm":66.7},
{"t":195,"r":3,"m":5,"p":47.5,"q":43.3,"lr":19,"hr":79,"lm":16.5,"hm":67.5},
{"t":210,"r":10,"m":9,"p":48.7,"q":43,"lr":18.5,"hr":79,"lm":16.5,"hm":68.5},
{"t":225,"r":12,"m":13,"p":49,"q":43.5,"lr":21,"hr":79.5,"lm":17.5,"hm":69.5},
{"t":240,"r":16,"m":18,"p":51,"q":44,"lr":23,"hr":79.5,"lm":18.8,"hm":70},
{"t":255,"r":19,"m":19,"p":51,"q":45,"lr":24.5,"hr":80,"lm":19.4,"hm":70.2},
{"t":270,"r":22,"m":24,"p":52.8,"q":45,"lr":24,"hr":79.5,"lm":20.5,"hm":70.3},
{"t":285,"r":25,"m":32,"p":51.3,"q":45.5,"lr":23.6,"hr":79.5,"lm":21.5,"hm":70.3},
{"t":300,"r":29,"m":35,"p":51.3,"q":46,"lr":23,"hr":79.5,"lm":21,"hm":70.5},
{"t":315,"r":32,"m":41,"p":52,"q":46,"lr":22.5,"hr":79.5,"lm":21.5,"hm":71},
{"t":330,"r":38,"m":48,"p":51.8,"q":46.3,"lr":24,"hr":79,"lm":22.5,"hm":71},
{"t":345,"r":44,"m":49,"p":52,"q":47.5,"lr":25.5,"hr":79,"lm":23.5,"hm":71},
{"t":359,"r":49,"m":54,"p":51.5,"q":50,"lr":28,"hr":78.4,"lm":25.2,"hm":71},
{"t":360,"r":0,"m":0,"p":55,"q":54,"lr":29,"hr":81.6,"lm":26.8,"hm":75.7},
{"t":375,"r":3,"m":8,"p":54,"q":54,"lr":28.5,"hr":80.5,"lm":28.5,"hm":80.5},
{"t":390,"r":5,"m":11,"p":53,"q":54.2,"lr":29,"hr":80.3,"lm":28,"hm":80.5},
{"t":405,"r":7,"m":12,"p":54,"q":53.5,"lr":29,"hr":80,"lm":28,"hm":80},
{"t":420,"r":8,"m":17,"p":54.5,"q":54,"lr":28.5,"hr":80,"lm":28,"hm":80},
{"t":435,"r":10,"m":21,"p":54,"q":53,"lr":27.5,"hr":80,"lm":27.5,"hm":79.5},
{"t":450,"r":12,"m":25,"p":55,"q":53.5,"lr":27.5,"hr":80.5,"lm":28.5,"hm":79.5},
{"t":465,"r":14,"m":26,"p":55,"q":54,"lr":29,"hr":80.3,"lm":29,"hm":79.5},
{"t":480,"r":15,"m":29,"p":55.5,"q":54,"lr":30,"hr":80.5,"lm":30,"hm":79.3},
{"t":495,"r":18,"m":40,"p":57,"q":55.5,"lr":31,"hr":80.5,"lm":31.5,"hm":79},
{"t":510,"r":22,"m":42,"p":56,"q":55.5,"lr":31,"hr":80.5,"lm":33,"hm":79},
{"t":525,"r":24,"m":47,"p":56.5,"q":56,"lr":30.5,"hr":80.5,"lm":32,"hm":79},
{"t":539,"r":25,"m":48,"p":57,"q":55.5,"lr":30.5,"hr":80,"lm":31,"hm":79.5},
{"t":540,"r":0,"m":0,"p":55,"q":57.7,"lr":32.7,"hr":78.4,"lm":30,"hm":79.5},
{"t":555,"r":6,"m":8,"p":54.5,"q":59.8,"lr":30.5,"hr":78,"lm":30.5,"hm":84.5},
{"t":570,"r":11,"m":12,"p":54,"q":58,"lr":30,"hr":78,"lm":31,"hm":83.5},
{"t":585,"r":14,"m":18,"p":54.5,"q":58.7,"lr":31,"hr":78.4,"lm":31,"hm":84.3},
{"t":600,"r":19,"m":24,"p":54,"q":58.7,"lr":31.5,"hr":78,"lm":31.5,"hm":84.3},
{"t":615,"r":24,"m":30,"p":55,"q":59.8,"lr":33.2,"hr":78.4,"lm":33,"hm":84.3},
{"t":630,"r":28,"m":34,"p":54.5,"q":58.7,"lr":33,"hr":78.4,"lm":34,"hm":84.5},
{"t":645,"r":33,"m":39,"p":53,"q":60.3,"lr":34.3,"hr":78.2,"lm":35.3,"hm":84.8},
{"t":660,"r":37,"m":40,"p":55,"q":59.8,"lr":33.5,"hr":78,"lm":35.3,"hm":84.5},
{"t":675,"r":40,"m":44,"p":55.5,"q":60.3,"lr":33.5,"hr":78,"lm":35.5,"hm":84.3},
{"t":690,"r":42,"m":49,"p":55.5,"q":59.8,"lr":34,"hr":78,"lm":36.5,"hm":84.3},
{"t":705,"r":45,"m":51,"p":55.5,"q":60.3,"lr":33.5,"hr":78,"lm":36.9,"hm":84.3},
{"t":719,"r":47,"m":57,"p":56,"q":60.9,"lr":34.3,"hr":78.4,"lm":36.5,"hm":84.3},
{"t":720,"r":0,"m":0,"p":57,"q":63.5,"lr":37.4,"hr":80,"lm":39.6,"hm":88.5},
{"t":735,"r":3,"m":3,"p":57,"q":64,"lr":35.9,"hr":80.3,"lm":39.6,"hm":88.2},
{"t":750,"r":8,"m":7,"p":58,"q":64.6,"lr":37,"hr":80.5,"lm":39.8,"hm":88},
{"t":765,"r":11,"m":12,"p":57.5,"q":63.5,"lr":36.5,"hr":80.5,"lm":39.3,"hm":87.7},
{"t":780,"r":14,"m":12,"p":57.5,"q":64,"lr":36,"hr":80.5,"lm":39.6,"hm":87.5},
{"t":795,"r":18,"m":13,"p":58,"q":63.5,"lr":38,"hr":80.5,"lm":39.6,"hm":87.5},
{"t":810,"r":22,"m":19,"p":60,"q":65,"lr":37.5,"hr":81,"lm":40,"hm":87.4},
{"t":825,"r":29,"m":24,"p":59.5,"q":64,"lr":38.5,"hr":81.6,"lm":40.2,"hm":87.4},
{"t":840,"r":33,"m":26,"p":60,"q":65,"lr":39,"hr":81.6,"lm":41.5,"hm":87.2},
{"t":855,"r":37,"m":29,"p":60,"q":65.5,"lr":39.5,"hr":81.6,"lm":42.5,"hm":87.2},
{"t":870,"r":39,"m":30,"p":61,"q":66,"lr":39.6,"hr":80.5,"lm":43.5,"hm":87.4},
{"t":885,"r":46,"m":35,"p":60.5,"q":65.5,"lr":40,"hr":81,"lm":43.5,"hm":87.4},
{"t":899,"r":50,"m":40,"p":60,"q":65,"lr":40.6,"hr":81,"lm":42.5,"hm":87.4},
{"t":900,"r":0,"m":0,"p":63.5,"q":64,"lr":45.4,"hr":84.3,"lm":43.8,"hm":85.3},
{"t":915,"r":4,"m":5,"p":62.5,"q":65,"lr":43,"hr":83.5,"lm":43,"hm":86},
{"t":930,"r":5,"m":10,"p":63,"q":65.5,"lr":42,"hr":83,"lm":43,"hm":86.2},
{"t":945,"r":12,"m":16,"p":63,"q":66,"lr":42.5,"hr":83.5,"lm":43.8,"hm":86.3},
{"t":960,"r":15,"m":23,"p":62.5,"q":66.7,"lr":43.5,"hr":83.7,"lm":45,"hm":86.3},
{"t":975,"r":17,"m":27,"p":63.5,"q":66.2,"lr":43.5,"hr":83.5,"lm":46,"hm":86.3},
{"t":990,"r":20,"m":31,"p":63.5,"q":66.2,"lr":44,"hr":83,"lm":46,"hm":86.3},
{"t":1005,"r":24,"m":33,"p":64,"q":66.5,"lr":44.5,"hr":82.7,"lm":46,"hm":86.3},
{"t":1020,"r":29,"m":40,"p":64,"q":66.7,"lr":44.5,"hr":83,"lm":46.5,"hm":86.3},
{"t":1035,"r":33,"m":44,"p":65,"q":67,"lr":45,"hr":83.2,"lm":47,"hm":86},
{"t":1050,"r":38,"m":53,"p":65,"q":66.7,"lr":45.5,"hr":83,"lm":46.5,"hm":86},
{"t":1065,"r":41,"m":59,"p":64.5,"q":67,"lr":46,"hr":82.7,"lm":46,"hm":85.7},
{"t":1079,"r":45,"m":63,"p":66,"q":68,"lr":47,"hr":83,"lm":47,"hm":85.3},
{"t":1080,"r":0,"m":0,"p":66,"q":68,"lr":48,"hr":83,"lm":50.7,"hm":85.3},
{"t":1095,"r":0,"m":3,"p":65.5,"q":68,"lr":47,"hr":83,"lm":50.2,"hm":85.8},
{"t":1110,"r":8,"m":12,"p":65,"q":68,"lr":46.5,"hr":82.5,"lm":50.5,"hm":86},
{"t":1125,"r":14,"m":21,"p":65.5,"q":69,"lr":46,"hr":82.7,"lm":50.7,"hm":86.3},
{"t":1140,"r":20,"m":27,"p":66,"q":69,"lr":48,"hr":82.5,"lm":50.7,"hm":86},
{"t":1155,"r":22,"m":29,"p":66.5,"q":69.5,"lr":48.5,"hr":82,"lm":52,"hm":85.8},
{"t":1170,"r":29,"m":35,"p":66.7,"q":69.5,"lr":50,"hr":82,"lm":52.3,"hm":85.8},
{"t":1185,"r":35,"m":37,"p":66.7,"q":70,"lr":50.7,"hr":81.7,"lm":53,"hm":85.5},
{"t":1200,"r":38,"m":39,"p":66.7,"q":70,"lr":51,"hr":81.5,"lm":54,"hm":85.3},
{"t":1215,"r":43,"m":44,"p":66.7,"q":70.5,"lr":53,"hr":81.5,"lm":55,"hm":85.5},
{"t":1230,"r":50,"m":49,"p":66.7,"q":71.5,"lr":54,"hr":81.5,"lm":56,"hm":85.8},
{"t":1245,"r":55,"m":52,"p":66,"q":71.5,"lr":55.5,"hr":81,"lm":56.6,"hm":85.8},
{"t":1259,"r":60,"m":57,"p":68,"q":72,"lr":56.6,"hr":80.5,"lm":59.8,"hm":85.8},
{"t":1260,"r":0,"m":0,"p":68,"q":74.7,"lr":52.3,"hr":81,"lm":57.7,"hm":89},
{"t":1275,"r":5,"m":5,"p":68.5,"q":74.7,"lr":52.5,"hr":81,"lm":58.5,"hm":89},
{"t":1290,"r":12,"m":10,"p":69,"q":74.2,"lr":53,"hr":81,"lm":59,"hm":88.5},
{"t":1305,"r":13,"m":14,"p":68.6,"q":74.2,"lr":53.5,"hr":81.5,"lm":60.3,"hm":87.5},
{"t":1320,"r":15,"m":14,"p":69.2,"q":74.2,"lr":54,"hr":82.7,"lm":60.3,"hm":87},
{"t":1335,"r":17,"m":16,"p":68.8,"q":73.6,"lr":55,"hr":81,"lm":60.3,"hm":86.3},
{"t":1350,"r":22,"m":20,"p":69.3,"q":74.2,"lr":55.5,"hr":80.5,"lm":61,"hm":86.8},
{"t":1365,"r":26,"m":25,"p":69,"q":74.2,"lr":56,"hr":80,"lm":61.5,"hm":86.3},
{"t":1380,"r":29,"m":27,"p":69.5,"q":74.7,"lr":56,"hr":79.5,"lm":62.4,"hm":85.5},
{"t":1395,"r":33,"m":32,"p":69.2,"q":74.7,"lr":56.5,"hr":79,"lm":62.4,"hm":85.5},
{"t":1410,"r":42,"m":37,"p":69.6,"q":75,"lr":56.5,"hr":78.8,"lm":63,"hm":85},
{"t":1425,"r":46,"m":39,"p":69.3,"q":75.2,"lr":57,"hr":78.4,"lm":63,"hm":84.8},
{"t":1439,"r":47,"m":45,"p":69.4,"q":74.7,"lr":57.7,"hr":79.5,"lm":63.5,"hm":84.3},
{"t":1440,"r":0,"m":0,"p":69,"q":74.7,"lr":57.7,"hr":79.5,"lm":63.5,"hm":84.3},
{"t":1445,"r":0,"m":0,"p":67,"q":71.5,"lr":55.5,"hr":70.4,"lm":62.5,"hm":77.9},
{"t":1452,"r":0,"m":0,"p":64,"q":72,"lr":55,"hr":70.4,"lm":64,"hm":79},
{"t":1460,"r":3,"m":6,"p":65.5,"q":74.7,"lr":54.5,"hr":70.4,"lm":66,"hm":81.5},
{"t":1466,"r":6,"m":10,"p":64,"q":77.3,"lr":56,"hr":70,"lm":69.5,"hm":84},
{"t":1473,"r":9,"m":16,"p":63.5,"q":79.5,"lr":56,"hr":69.5,"lm":71,"hm":86.5},
{"t":1480,"r":11,"m":17,"p":63.5,"q":78,"lr":56.5,"hr":70,"lm":69.5,"hm":85},
{"t":1487,"r":13,"m":21,"p":63,"q":77.5,"lr":56.5,"hr":70,"lm":68.5,"hm":84.5},
{"t":1494,"r":18,"m":24,"p":63.5,"q":76,"lr":57.5,"hr":71,"lm":65,"hm":81},
{"t":1500,"r":21,"m":24,"p":66,"q":74.5,"lr":58.7,"hr":73,"lm":62.4,"hm":78},
{"t":1505,"r":24,"m":24,"p":69,"q":71,"lr":61,"hr":75.5,"lm":61,"hm":75.5},
{"t":1512,"r":25,"m":26,"p":67,"q":68,"lr":62.5,"hr":74,"lm":60,"hm":73.5},
{"t":1520,"r":27,"m":27,"p":65.5,"q":66,"lr":62.5,"hr":72.5,"lm":58.5,"hm":72},
{"t":1527,"r":29,"m":27,"p":64.5,"q":64.5,"lr":61.5,"hr":72,"lm":56.6,"hm":70.5},
{"t":1534,"r":31,"m":29,"p":63.5,"q":62,"lr":60.5,"hr":71,"lm":55,"hm":69.5},
{"t":1540,"r":33,"m":31,"p":61.4,"q":61,"lr":59,"hr":68,"lm":55,"hm":67.5},
{"t":1545,"r":33,"m":32,"p":60.8,"q":60.3,"lr":58.7,"hr":65.6,"lm":54.5,"hm":65.6},
{"t":1549,"r":34,"m":33,"p":37.4,"q":35.8,"lr":34.3,"hr":39,"lm":33.2,"hm":39.6},
{"t":1556,"r":35,"m":34,"p":37,"q":36.2,"lr":34.5,"hr":39,"lm":33.5,"hm":38.8},
{"t":1564,"r":36,"m":35,"p":37.4,"q":36.5,"lr":35,"hr":39,"lm":34,"hm":38.8},
{"t":1570,"r":36,"m":36,"p":38,"q":37,"lr":35.5,"hr":39,"lm":34.5,"hm":38.8},
{"t":1576,"r":37,"m":37,"p":38.5,"q":37.5,"lr":36,"hr":39.5,"lm":35.5,"hm":39},
{"t":1582,"r":38,"m":39,"p":39.6,"q":38.5,"lr":37,"hr":40.5,"lm":36.5,"hm":40},
{"t":1587,"r":39,"m":40,"p":40,"q":40,"lr":38,"hr":41.5,"lm":38,"hm":41},
{"t":1600,"r":44,"m":43,"p":43,"q":43,"lr":42,"hr":45,"lm":41.5,"hm":44.5},
{"t":1612,"r":47,"m":46,"p":47,"q":46,"lr":46,"hr":48.5,"lm":45,"hm":48},
{"t":1616,"r":49,"m":48,"p":48.5,"q":47.5,"lr":48,"hr":49.5,"lm":47,"hm":49},
{"t":1619,"r":49,"m":48,"p":49,"q":47,"lr":48.5,"hr":49.2,"lm":47,"hm":48.5},
{"t":1620,"r":0,"m":0,"p":0,"q":0},
{"t":1622,"p":49,"q":47},
{"t":1635,"r":4,"m":4},
{"t":1650,"r":7,"m":11},
{"t":1665,"r":13,"m":17},
{"t":1680,"r":14,"m":24},
{"t":1695,"r":17,"m":27},
{"t":1710,"r":21,"m":31},
{"t":1725,"r":24,"m":32},
{"t":1740,"r":25,"m":33},
{"t":1755,"r":29,"m":35},
{"t":1770,"r":35,"m":44},
{"t":1785,"r":37,"m":48},
{"t":1800,"r":37,"m":51,"p":49,"q":47}
]
},
"vconcat":[
{
"title":{"text":"YOENIS TELLEZ — Total Strikes Attempted R9 Over Full Fight (Event 16255)"},
"width":1983,"height":467,
"data":{"name":"p1"},
"encoding":{"x":{"field":"t","type":"quantitative","scale":{"domain":[-90,1890],"nice":false,"zero":false},"axis":{"values":[0,250,500,750,1000,1250,1500,1750],"labels":false,"title":null}}},
"layer":[
{"data":{"name":"rounds"},"mark":{"type":"rule","color":"#555","strokeWidth":1,"strokeDash":[1.5,2.5],"opacity":0.8},"encoding":{}},
{"data":{"name":"rounds"},"mark":{"type":"text","align":"left","baseline":"middle","dx":2,"fontSize":16.5,"color":"#666"},"encoding":{"y":{"datum":1.094},"text":{"field":"r"}}},
{"transform":[{"filter":"isValid(datum.a)&&isValid(datum.A)"}],"mark":{"type":"area","color":"#e6194B","opacity":0.1},"encoding":{"y":{"field":"a","type":"quantitative","scale":{"domain":[0,1.151],"nice":false,"zero":false},"axis":{"values":[0,0.05,0.1,0.15,0.2,0.25,0.3,0.35,0.4,0.45,0.5,0.55,0.6,0.65,0.7,0.75,0.8,0.85,0.9,0.95,1,1.05,1.1,1.15],"tickCount":40,"format":".2f","title":"Prob"}},"y2":{"field":"A"}}},
{"mark":{"type":"line","strokeWidth":2,"opacity":0.85},"encoding":{"y":{"field":"a","type":"quantitative"},"color":{"datum":"over 9.5","scale":{"domain":["over 9.5","over 19.5","over 29.5","over 39.5","over 49.5","over 59.5","over 69.5","over 79.5"],"range":["#e6194B","#3cb44b","#4363d8","#f58231","#911eb4","#42d4f4","#f032e6","#bfef45"]},"legend":{"orient":"top-right","offset":7,"title":null,"columns":4,"symbolType":"stroke","symbolStrokeWidth":2.5,"symbolSize":420,"labelFontSize":12.5,"fillColor":"rgba(255,255,255,0.8)","strokeColor":"#cccccc","padding":4,"cornerRadius":3,"columnPadding":24,"rowPadding":-4,"labelOffset":8}}}},
{"mark":{"type":"line","strokeWidth":1.3,"strokeDash":[1.3,2.2],"opacity":0.6,"color":"#e6194B"},"encoding":{"y":{"field":"A","type":"quantitative"}}},
{"transform":[{"filter":"isValid(datum.b)&&isValid(datum.B)"}],"mark":{"type":"area","color":"#3cb44b","opacity":0.1},"encoding":{"y":{"field":"b","type":"quantitative"},"y2":{"field":"B"}}},
{"mark":{"type":"line","strokeWidth":2,"opacity":0.85},"encoding":{"y":{"field":"b","type":"quantitative"},"color":{"datum":"over 19.5"}}},
{"mark":{"type":"line","strokeWidth":1.3,"strokeDash":[1.3,2.2],"opacity":0.6,"color":"#3cb44b"},"encoding":{"y":{"field":"B","type":"quantitative"}}},
{"transform":[{"filter":"isValid(datum.c)&&isValid(datum.C)"}],"mark":{"type":"area","color":"#4363d8","opacity":0.1},"encoding":{"y":{"field":"c","type":"quantitative"},"y2":{"field":"C"}}},
{"mark":{"type":"line","strokeWidth":2,"opacity":0.85},"encoding":{"y":{"field":"c","type":"quantitative"},"color":{"datum":"over 29.5"}}},
{"mark":{"type":"line","strokeWidth":1.3,"strokeDash":[1.3,2.2],"opacity":0.6,"color":"#4363d8"},"encoding":{"y":{"field":"C","type":"quantitative"}}},
{"transform":[{"filter":"isValid(datum.e)&&isValid(datum.E)"}],"mark":{"type":"area","color":"#f58231","opacity":0.1},"encoding":{"y":{"field":"e","type":"quantitative"},"y2":{"field":"E"}}},
{"mark":{"type":"line","strokeWidth":2,"opacity":0.85},"encoding":{"y":{"field":"e","type":"quantitative"},"color":{"datum":"over 39.5"}}},
{"mark":{"type":"line","strokeWidth":1.3,"strokeDash":[1.3,2.2],"opacity":0.6,"color":"#f58231"},"encoding":{"y":{"field":"E","type":"quantitative"}}},
{"transform":[{"filter":"isValid(datum.f)&&isValid(datum.F)"}],"mark":{"type":"area","color":"#911eb4","opacity":0.1},"encoding":{"y":{"field":"f","type":"quantitative"},"y2":{"field":"F"}}},
{"mark":{"type":"line","strokeWidth":2,"opacity":0.85},"encoding":{"y":{"field":"f","type":"quantitative"},"color":{"datum":"over 49.5"}}},
{"mark":{"type":"line","strokeWidth":1.3,"strokeDash":[1.3,2.2],"opacity":0.6,"color":"#911eb4"},"encoding":{"y":{"field":"F","type":"quantitative"}}},
{"transform":[{"filter":"isValid(datum.g)&&isValid(datum.G)"}],"mark":{"type":"area","color":"#42d4f4","opacity":0.1},"encoding":{"y":{"field":"g","type":"quantitative"},"y2":{"field":"G"}}},
{"mark":{"type":"line","strokeWidth":2,"opacity":0.85},"encoding":{"y":{"field":"g","type":"quantitative"},"color":{"datum":"over 59.5"}}},
{"mark":{"type":"line","strokeWidth":1.3,"strokeDash":[1.3,2.2],"opacity":0.6,"color":"#42d4f4"},"encoding":{"y":{"field":"G","type":"quantitative"}}},
{"transform":[{"filter":"isValid(datum.h)&&isValid(datum.H)"}],"mark":{"type":"area","color":"#f032e6","opacity":0.1},"encoding":{"y":{"field":"h","type":"quantitative"},"y2":{"field":"H"}}},
{"mark":{"type":"line","strokeWidth":2,"opacity":0.85},"encoding":{"y":{"field":"h","type":"quantitative"},"color":{"datum":"over 69.5"}}},
{"mark":{"type":"line","strokeWidth":1.3,"strokeDash":[1.3,2.2],"opacity":0.6,"color":"#f032e6"},"encoding":{"y":{"field":"H","type":"quantitative"}}},
{"transform":[{"filter":"isValid(datum.i)&&isValid(datum.I)"}],"mark":{"type":"area","color":"#bfef45","opacity":0.1},"encoding":{"y":{"field":"i","type":"quantitative"},"y2":{"field":"I"}}},
{"mark":{"type":"line","strokeWidth":2,"opacity":0.85},"encoding":{"y":{"field":"i","type":"quantitative"},"color":{"datum":"over 79.5"}}},
{"mark":{"type":"line","strokeWidth":1.3,"strokeDash":[1.3,2.2],"opacity":0.6,"color":"#bfef45"},"encoding":{"y":{"field":"I","type":"quantitative"}}}
]
},
{
"title":{"text":"BRIAN MENDOZA — Total Strikes Attempted R9 Over Full Fight (Event 16255)"},
"width":1983,"height":467,
"data":{"name":"p2"},
"encoding":{"x":{"field":"t","type":"quantitative","scale":{"domain":[-90,1890],"nice":false,"zero":false},"axis":{"values":[0,250,500,750,1000,1250,1500,1750],"labels":false,"title":null}}},
"layer":[
{"data":{"name":"rounds"},"mark":{"type":"rule","color":"#555","strokeWidth":1,"strokeDash":[1.5,2.5],"opacity":0.8},"encoding":{}},
{"data":{"name":"rounds"},"mark":{"type":"text","align":"left","baseline":"middle","dx":2,"fontSize":16.5,"color":"#666"},"encoding":{"y":{"datum":1.094},"text":{"field":"r"}}},
{"transform":[{"filter":"isValid(datum.a)&&isValid(datum.A)"}],"mark":{"type":"area","color":"#e6194B","opacity":0.1},"encoding":{"y":{"field":"a","type":"quantitative","scale":{"domain":[0,1.151],"nice":false,"zero":false},"axis":{"values":[0,0.05,0.1,0.15,0.2,0.25,0.3,0.35,0.4,0.45,0.5,0.55,0.6,0.65,0.7,0.75,0.8,0.85,0.9,0.95,1,1.05,1.1,1.15],"tickCount":40,"format":".2f","title":"Prob"}},"y2":{"field":"A"}}},
{"mark":{"type":"line","strokeWidth":2,"opacity":0.85},"encoding":{"y":{"field":"a","type":"quantitative"},"color":{"datum":"over 9.5","scale":{"domain":["over 9.5","over 19.5","over 29.5","over 39.5","over 49.5","over 59.5","over 69.5","over 79.5"],"range":["#e6194B","#3cb44b","#4363d8","#f58231","#911eb4","#42d4f4","#f032e6","#bfef45"]},"legend":{"orient":"top-right","offset":7,"title":null,"columns":4,"symbolType":"stroke","symbolStrokeWidth":2.5,"symbolSize":420,"labelFontSize":12.5,"fillColor":"rgba(255,255,255,0.8)","strokeColor":"#cccccc","padding":4,"cornerRadius":3,"columnPadding":24,"rowPadding":-4,"labelOffset":8}}}},
{"mark":{"type":"line","strokeWidth":1.3,"strokeDash":[1.3,2.2],"opacity":0.6,"color":"#e6194B"},"encoding":{"y":{"field":"A","type":"quantitative"}}},
{"transform":[{"filter":"isValid(datum.b)&&isValid(datum.B)"}],"mark":{"type":"area","color":"#3cb44b","opacity":0.1},"encoding":{"y":{"field":"b","type":"quantitative"},"y2":{"field":"B"}}},
{"mark":{"type":"line","strokeWidth":2,"opacity":0.85},"encoding":{"y":{"field":"b","type":"quantitative"},"color":{"datum":"over 19.5"}}},
{"mark":{"type":"line","strokeWidth":1.3,"strokeDash":[1.3,2.2],"opacity":0.6,"color":"#3cb44b"},"encoding":{"y":{"field":"B","type":"quantitative"}}},
{"transform":[{"filter":"isValid(datum.c)&&isValid(datum.C)"}],"mark":{"type":"area","color":"#4363d8","opacity":0.1},"encoding":{"y":{"field":"c","type":"quantitative"},"y2":{"field":"C"}}},
{"mark":{"type":"line","strokeWidth":2,"opacity":0.85},"encoding":{"y":{"field":"c","type":"quantitative"},"color":{"datum":"over 29.5"}}},
{"mark":{"type":"line","strokeWidth":1.3,"strokeDash":[1.3,2.2],"opacity":0.6,"color":"#4363d8"},"encoding":{"y":{"field":"C","type":"quantitative"}}},
{"transform":[{"filter":"isValid(datum.e)&&isValid(datum.E)"}],"mark":{"type":"area","color":"#f58231","opacity":0.1},"encoding":{"y":{"field":"e","type":"quantitative"},"y2":{"field":"E"}}},
{"mark":{"type":"line","strokeWidth":2,"opacity":0.85},"encoding":{"y":{"field":"e","type":"quantitative"},"color":{"datum":"over 39.5"}}},
{"mark":{"type":"line","strokeWidth":1.3,"strokeDash":[1.3,2.2],"opacity":0.6,"color":"#f58231"},"encoding":{"y":{"field":"E","type":"quantitative"}}},
{"transform":[{"filter":"isValid(datum.f)&&isValid(datum.F)"}],"mark":{"type":"area","color":"#911eb4","opacity":0.1},"encoding":{"y":{"field":"f","type":"quantitative"},"y2":{"field":"F"}}},
{"mark":{"type":"line","strokeWidth":2,"opacity":0.85},"encoding":{"y":{"field":"f","type":"quantitative"},"color":{"datum":"over 49.5"}}},
{"mark":{"type":"line","strokeWidth":1.3,"strokeDash":[1.3,2.2],"opacity":0.6,"color":"#911eb4"},"encoding":{"y":{"field":"F","type":"quantitative"}}},
{"transform":[{"filter":"isValid(datum.g)&&isValid(datum.G)"}],"mark":{"type":"area","color":"#42d4f4","opacity":0.1},"encoding":{"y":{"field":"g","type":"quantitative"},"y2":{"field":"G"}}},
{"mark":{"type":"line","strokeWidth":2,"opacity":0.85},"encoding":{"y":{"field":"g","type":"quantitative"},"color":{"datum":"over 59.5"}}},
{"mark":{"type":"line","strokeWidth":1.3,"strokeDash":[1.3,2.2],"opacity":0.6,"color":"#42d4f4"},"encoding":{"y":{"field":"G","type":"quantitative"}}},
{"transform":[{"filter":"isValid(datum.h)&&isValid(datum.H)"}],"mark":{"type":"area","color":"#f032e6","opacity":0.1},"encoding":{"y":{"field":"h","type":"quantitative"},"y2":{"field":"H"}}},
{"mark":{"type":"line","strokeWidth":2,"opacity":0.85},"encoding":{"y":{"field":"h","type":"quantitative"},"color":{"datum":"over 69.5"}}},
{"mark":{"type":"line","strokeWidth":1.3,"strokeDash":[1.3,2.2],"opacity":0.6,"color":"#f032e6"},"encoding":{"y":{"field":"H","type":"quantitative"}}},
{"transform":[{"filter":"isValid(datum.i)&&isValid(datum.I)"}],"mark":{"type":"area","color":"#bfef45","opacity":0.1},"encoding":{"y":{"field":"i","type":"quantitative"},"y2":{"field":"I"}}},
{"mark":{"type":"line","strokeWidth":2,"opacity":0.85},"encoding":{"y":{"field":"i","type":"quantitative"},"color":{"datum":"over 79.5"}}},
{"mark":{"type":"line","strokeWidth":1.3,"strokeDash":[1.3,2.2],"opacity":0.6,"color":"#bfef45"},"encoding":{"y":{"field":"I","type":"quantitative"}}}
]
},
{
"title":{"text":" "},
"width":1983,"height":311,
"data":{"name":"p3"},
"encoding":{"x":{"field":"t","type":"quantitative","scale":{"domain":[-90,1890],"nice":false,"zero":false},"axis":{"values":[0,250,500,750,1000,1250,1500,1750],"format":"d","title":"Fight time (seconds)","labelFontSize":14.5,"titleFontSize":20.5,"labelPadding":6,"titlePadding":6}}},
"layer":[
{"data":{"name":"rounds"},"mark":{"type":"rule","color":"#555","strokeWidth":1,"strokeDash":[1.5,2.5],"opacity":0.8},"encoding":{}},
{"data":{"name":"rounds"},"mark":{"type":"text","align":"left","baseline":"middle","dx":2,"fontSize":16.5,"color":"#666"},"encoding":{"y":{"datum":89.5},"text":{"field":"r"}}},
{"transform":[{"filter":"isValid(datum.lr)&&isValid(datum.hr)"}],"mark":{"type":"area","color":"#ff0000","opacity":0.15},"encoding":{"y":{"field":"lr","type":"quantitative","scale":{"domain":[-4.3,94.6],"nice":false,"zero":false},"axis":{"values":[0,5,10,15,20,25,30,35,40,45,50,55,60,65,70,75,80,85,90],"tickCount":40,"labelExpr":"datum.value % 20 === 0 ? datum.label : ''","tickOpacity":{"condition":{"test":"datum.value % 20 === 0","value":1},"value":0},"title":"Count"}},"y2":{"field":"hr"}}},
{"transform":[{"filter":"isValid(datum.lm)&&isValid(datum.hm)"}],"mark":{"type":"area","color":"#0000ff","opacity":0.15},"encoding":{"y":{"field":"lm","type":"quantitative"},"y2":{"field":"hm"}}},
{"mark":{"type":"line","strokeWidth":2.6,"opacity":0.75},"encoding":{"y":{"field":"r","type":"quantitative"},"color":{"datum":"Truth YOENIS TELLEZ: 49","scale":{"domain":["Truth YOENIS TELLEZ: 49","Truth BRIAN MENDOZA: 48","Predicted YOENIS TELLEZ: 71.1","Predicted BRIAN MENDOZA: 72.2"],"range":["#ff0000","#0000ff","#ff4d4d","#4d4dff"]},"legend":{"orient":"top-left","offset":7,"title":null,"symbolType":"stroke","symbolStrokeWidth":3,"symbolSize":625,"labelFontSize":14.8,"labelLimit":500,"fillColor":"rgba(255,255,255,0.8)","strokeColor":"#cccccc","padding":5,"cornerRadius":3,"rowPadding":-5.6,"labelOffset":10}},"strokeDash":{"datum":"Truth YOENIS TELLEZ: 49","scale":{"domain":["Truth YOENIS TELLEZ: 49","Truth BRIAN MENDOZA: 48","Predicted YOENIS TELLEZ: 71.1","Predicted BRIAN MENDOZA: 72.2"],"range":[[1,0],[1,0],[3,5],[3,5]]},"legend":{"orient":"top-left","offset":7,"title":null,"symbolType":"stroke","symbolStrokeWidth":3,"symbolSize":625,"labelFontSize":14.8,"labelLimit":500,"fillColor":"rgba(255,255,255,0.8)","strokeColor":"#cccccc","padding":5,"cornerRadius":3,"rowPadding":-5.6,"labelOffset":10}}}},
{"mark":{"type":"line","strokeWidth":2.6,"opacity":0.75},"encoding":{"y":{"field":"m","type":"quantitative"},"color":{"datum":"Truth BRIAN MENDOZA: 48"},"strokeDash":{"datum":"Truth BRIAN MENDOZA: 48"}}},
{"mark":{"type":"line","strokeWidth":2.6,"opacity":0.6},"encoding":{"y":{"field":"p","type":"quantitative"},"color":{"datum":"Predicted YOENIS TELLEZ: 71.1"},"strokeDash":{"datum":"Predicted YOENIS TELLEZ: 71.1"}}},
{"mark":{"type":"line","strokeWidth":2.6,"opacity":0.6},"encoding":{"y":{"field":"q","type":"quantitative"},"color":{"datum":"Predicted BRIAN MENDOZA: 72.2"},"strokeDash":{"datum":"Predicted BRIAN MENDOZA: 72.2"}}}
]
}
]
}
